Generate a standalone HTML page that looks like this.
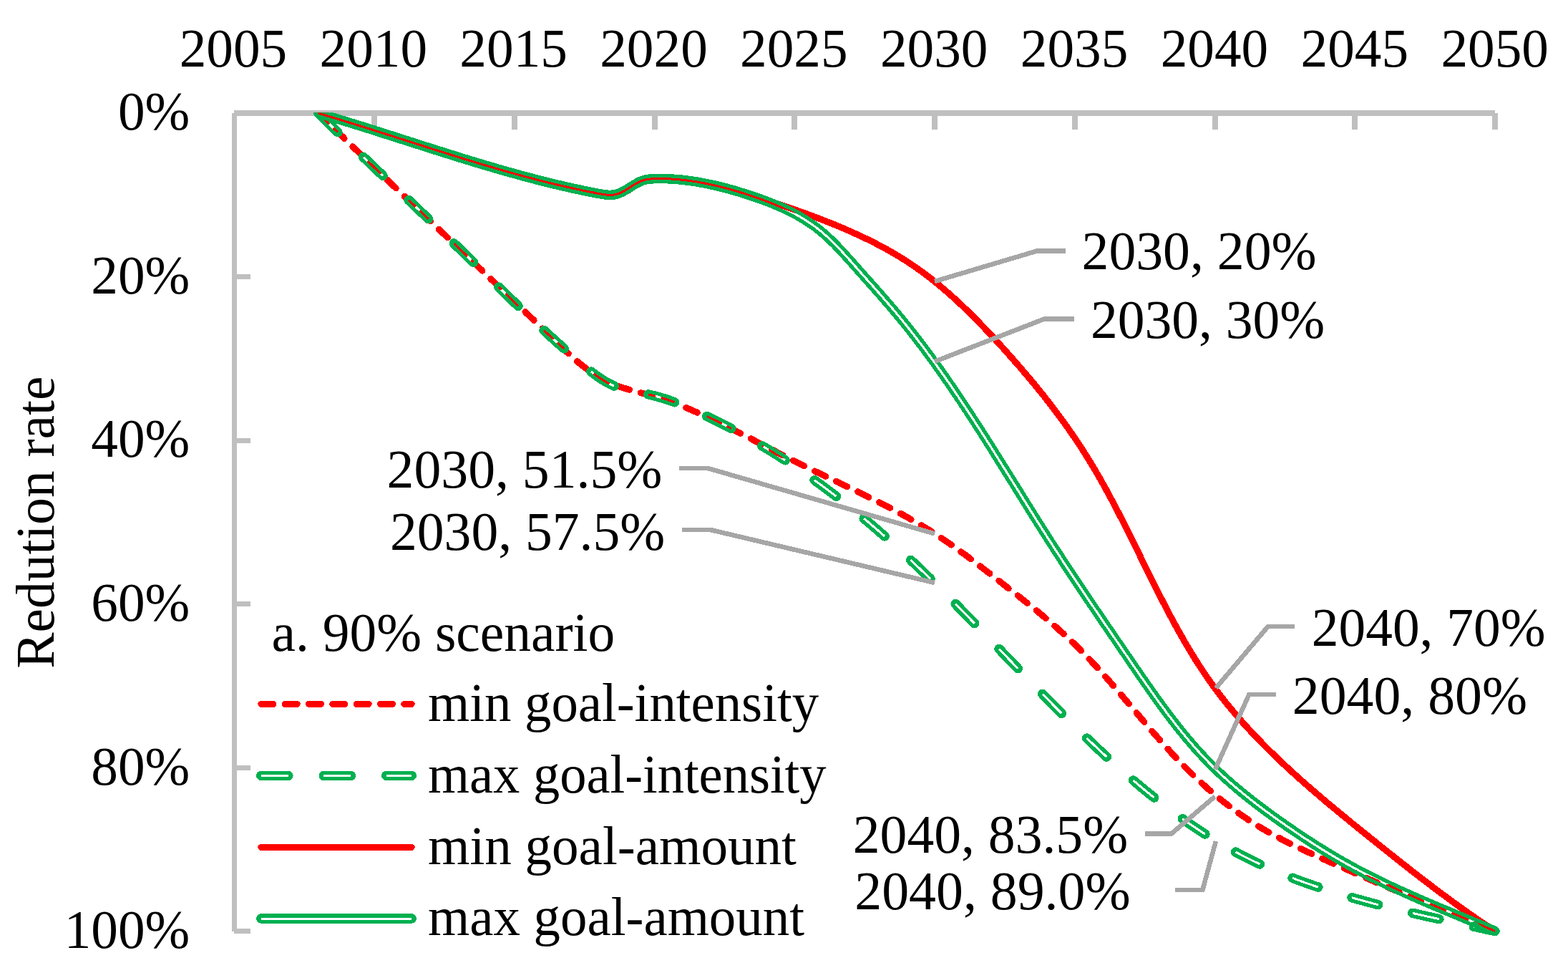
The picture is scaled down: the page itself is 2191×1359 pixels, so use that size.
<!DOCTYPE html><html><head><meta charset="utf-8"><style>html,body{margin:0;padding:0;background:#fff;overflow:hidden}svg{display:block}</style></head><body><svg width="2191" height="1359" viewBox="0 0 2191 1359" shape-rendering="crispEdges">
<rect width="2191" height="1359" fill="#fff"/>
<defs><mask id="m_gi" maskUnits="userSpaceOnUse" x="0" y="0" width="2191" height="1359"><path d="M444.9,158.2 L446.3,159.6 L447.7,161.0 L449.2,162.4 L450.6,163.8 L452.0,165.2 L453.4,166.6 L454.9,168.0 L456.3,169.4 L457.7,170.8 L459.1,172.3 L460.6,173.7 L462.0,175.1 L463.4,176.5 L464.9,177.9 L466.3,179.3 L467.7,180.6 L469.1,182.0 L470.6,183.4 L472.0,184.8 L473.4,186.2 L474.9,187.6 L476.3,189.0 L477.7,190.4 L479.2,191.8 L480.6,193.2 L482.1,194.6 L483.5,196.0 L484.9,197.4 L486.4,198.8 L487.8,200.2 L489.2,201.5 L490.7,202.9 L492.1,204.3 L493.6,205.7 L495.0,207.1 L496.5,208.5 L497.9,209.9 L499.3,211.3 L500.8,212.6 L502.2,214.0 L503.7,215.4 L505.1,216.8 L506.6,218.2 L508.0,219.6 L509.4,221.0 L510.9,222.3 L512.3,223.7 L513.8,225.1 L515.2,226.5 L516.7,227.9 L518.1,229.2 L519.6,230.6 L521.0,232.0 L522.5,233.4 L523.9,234.8 L525.4,236.1 L526.8,237.5 L528.3,238.9 L529.7,240.3 L531.2,241.7 L532.6,243.0 L534.1,244.4 L535.5,245.8 L537.0,247.2 L538.4,248.6 L539.9,249.9 L541.3,251.3 L542.8,252.7 L544.2,254.1 L545.7,255.4 L547.1,256.8 L548.6,258.2 L550.0,259.6 L551.5,261.0 L552.9,262.3 L554.4,263.7 L555.8,265.1 L557.3,266.5 L558.7,267.8 L560.2,269.2 L561.6,270.6 L563.1,272.0 L564.5,273.3 L566.0,274.7 L567.4,276.1 L568.9,277.5 L570.3,278.9 L571.8,280.2 L573.2,281.6 L574.7,283.0 L576.1,284.4 L577.6,285.7 L579.0,287.1 L580.5,288.5 L581.9,289.9 L583.4,291.3 L584.8,292.6 L586.3,294.0 L587.7,295.4 L589.2,296.8 L590.6,298.1 L592.1,299.5 L593.5,300.9 L595.0,302.3 L596.4,303.7 L597.9,305.0 L599.3,306.4 L600.8,307.8 L602.2,309.2 L603.7,310.6 L605.1,311.9 L606.6,313.3 L608.0,314.7 L609.5,316.1 L610.9,317.5 L612.3,318.9 L613.8,320.2 L615.2,321.6 L616.7,323.0 L618.1,324.4 L619.6,325.8 L621.0,327.2 L622.5,328.5 L623.9,329.9 L625.3,331.3 L626.8,332.7 L628.2,334.1 L629.7,335.5 L631.1,336.9 L632.5,338.2 L634.0,339.6 L635.4,341.0 L636.9,342.4 L638.3,343.8 L639.7,345.2 L641.2,346.6 L642.6,348.0 L644.1,349.4 L645.5,350.8 L646.9,352.2 L648.4,353.5 L649.8,354.9 L651.2,356.3 L652.7,357.7 L654.1,359.1 L655.5,360.5 L657.0,361.9 L658.4,363.3 L659.8,364.7 L661.3,366.1 L662.7,367.5 L664.1,368.9 L665.5,370.3 L667.0,371.7 L668.4,373.1 L669.8,374.5 L671.3,375.9 L672.7,377.3 L674.1,378.7 L675.6,380.1 L677.0,381.5 L678.4,382.9 L679.8,384.3 L681.3,385.7 L682.7,387.1 L684.1,388.5 L685.6,389.9 L687.0,391.3 L688.4,392.7 L689.8,394.1 L691.3,395.5 L692.7,396.9 L694.1,398.3 L695.6,399.7 L697.0,401.1 L698.4,402.5 L699.9,403.9 L701.3,405.3 L702.7,406.7 L704.2,408.1 L705.6,409.5 L707.0,410.9 L708.5,412.3 L709.9,413.7 L711.3,415.1 L712.8,416.5 L714.2,417.8 L715.6,419.2 L717.1,420.6 L718.5,422.0 L719.9,423.4 L721.4,424.8 L722.8,426.2 L724.3,427.6 L725.7,429.0 L727.1,430.3 L728.6,431.7 L730.0,433.1 L731.5,434.5 L732.9,435.9 L734.4,437.3 L735.8,438.6 L737.3,440.0 L738.7,441.4 L740.2,442.8 L741.6,444.2 L743.1,445.5 L744.5,446.9 L746.0,448.3 L747.4,449.7 L748.9,451.0 L750.4,452.4 L751.8,453.8 L753.3,455.1 L754.7,456.5 L756.2,457.9 L757.7,459.2 L759.1,460.6 L760.6,461.9 L762.1,463.3 L763.5,464.7 L765.0,466.0 L766.5,467.4 L768.0,468.7 L769.4,470.1 L770.9,471.4 L772.4,472.8 L773.9,474.1 L775.4,475.4 L776.8,476.8 L778.3,478.1 L779.8,479.5 L781.3,480.8 L782.8,482.1 L784.3,483.5 L785.8,484.8 L787.3,486.1 L788.8,487.5 L790.3,488.8 L791.8,490.1 L793.3,491.4 L794.8,492.7 L796.3,494.1 L797.8,495.4 L799.3,496.7 L800.8,498.0 L802.3,499.3 L803.8,500.6 L805.4,501.9 L806.9,503.2 L808.4,504.5 L809.9,505.8 L811.5,507.1 L813.0,508.4 L814.5,509.7 L816.0,511.0 L817.6,512.2 L819.1,513.5 L820.7,514.8 L822.2,516.1 L823.8,517.3 L825.3,518.6 L826.9,519.8 L828.5,521.0 L830.1,522.2 L831.7,523.4 L833.3,524.6 L834.9,525.8 L836.6,526.9 L838.2,528.0 L839.9,529.2 L841.6,530.2 L843.3,531.3 L845.0,532.3 L846.7,533.3 L848.4,534.3 L850.2,535.3 L852.0,536.2 L853.8,537.1 L855.6,537.9 L857.4,538.8 L859.3,539.5 L861.1,540.3 L863.0,541.0 L864.9,541.6 L866.8,542.2 L868.7,542.8 L870.6,543.3 L872.6,543.8 L874.5,544.3 L876.5,544.8 L878.4,545.2 L880.4,545.6 L882.3,546.0 L884.3,546.4 L886.2,546.8 L888.2,547.2 L890.2,547.6 L892.1,548.0 L894.1,548.4 L896.1,548.8 L898.0,549.2 L900.0,549.6 L901.9,550.0 L903.9,550.4 L905.8,550.9 L907.8,551.3 L909.7,551.8 L911.7,552.3 L913.6,552.7 L915.6,553.2 L917.5,553.7 L919.4,554.3 L921.3,554.8 L923.3,555.3 L925.2,555.9 L927.1,556.5 L929.0,557.1 L930.9,557.7 L932.8,558.3 L934.7,559.0 L936.6,559.7 L938.5,560.3 L940.4,561.0 L942.2,561.7 L944.1,562.4 L946.0,563.1 L947.8,563.9 L949.7,564.6 L951.5,565.4 L953.4,566.1 L955.2,566.9 L957.1,567.7 L958.9,568.4 L960.8,569.2 L962.6,570.0 L964.4,570.8 L966.3,571.6 L968.1,572.4 L969.9,573.3 L971.8,574.1 L973.6,574.9 L975.4,575.7 L977.2,576.5 L979.0,577.4 L980.9,578.2 L982.7,579.1 L984.5,579.9 L986.3,580.8 L988.1,581.6 L989.9,582.5 L991.7,583.3 L993.5,584.2 L995.3,585.1 L997.1,586.0 L998.9,586.8 L1000.7,587.7 L1002.5,588.6 L1004.3,589.5 L1006.1,590.4 L1007.9,591.3 L1009.6,592.2 L1011.4,593.1 L1013.2,594.0 L1015.0,594.9 L1016.8,595.9 L1018.5,596.8 L1020.3,597.7 L1022.1,598.7 L1023.8,599.6 L1025.6,600.5 L1027.4,601.5 L1029.1,602.4 L1030.9,603.4 L1032.6,604.3 L1034.4,605.3 L1036.2,606.3 L1037.9,607.2 L1039.7,608.2 L1041.4,609.2 L1043.1,610.1 L1044.9,611.1 L1046.6,612.1 L1048.4,613.1 L1050.1,614.1 L1051.8,615.1 L1053.6,616.1 L1055.3,617.1 L1057.0,618.1 L1058.8,619.1 L1060.5,620.1 L1062.2,621.1 L1063.9,622.2 L1065.6,623.2 L1067.4,624.2 L1069.1,625.2 L1070.8,626.3 L1072.5,627.3 L1074.2,628.4 L1075.9,629.4 L1077.6,630.4 L1079.3,631.5 L1081.0,632.6 L1082.7,633.6 L1084.4,634.7 L1086.1,635.7 L1087.8,636.8 L1089.5,637.9 L1091.2,639.0 L1092.9,640.0 L1094.5,641.1 L1096.2,642.2 L1097.9,643.3 L1099.6,644.4 L1101.2,645.5 L1102.9,646.6 L1104.6,647.7 L1106.3,648.8 L1107.9,649.9 L1109.6,651.0 L1111.3,652.1 L1112.9,653.2 L1114.6,654.4 L1116.2,655.5 L1117.9,656.6 L1119.5,657.7 L1121.2,658.9 L1122.8,660.0 L1124.5,661.1 L1126.1,662.3 L1127.8,663.4 L1129.4,664.6 L1131.0,665.7 L1132.7,666.9 L1134.3,668.0 L1135.9,669.2 L1137.6,670.3 L1139.2,671.5 L1140.8,672.7 L1142.4,673.9 L1144.0,675.0 L1145.7,676.2 L1147.3,677.4 L1148.9,678.6 L1150.5,679.7 L1152.1,680.9 L1153.7,682.1 L1155.3,683.3 L1156.9,684.5 L1158.5,685.7 L1160.1,686.9 L1161.7,688.1 L1163.3,689.3 L1164.9,690.5 L1166.5,691.7 L1168.1,693.0 L1169.7,694.2 L1171.3,695.4 L1172.9,696.6 L1174.4,697.8 L1176.0,699.1 L1177.6,700.3 L1179.2,701.5 L1180.7,702.8 L1182.3,704.0 L1183.9,705.3 L1185.4,706.5 L1187.0,707.7 L1188.6,709.0 L1190.1,710.2 L1191.7,711.5 L1193.3,712.8 L1194.8,714.0 L1196.4,715.3 L1197.9,716.5 L1199.5,717.8 L1201.0,719.1 L1202.5,720.4 L1204.1,721.6 L1205.6,722.9 L1207.2,724.2 L1208.7,725.5 L1210.2,726.7 L1211.8,728.0 L1213.3,729.3 L1214.8,730.6 L1216.4,731.9 L1217.9,733.2 L1219.4,734.5 L1220.9,735.8 L1222.4,737.1 L1224.0,738.4 L1225.5,739.7 L1227.0,741.0 L1228.5,742.3 L1230.0,743.6 L1231.5,745.0 L1233.0,746.3 L1234.5,747.6 L1236.0,748.9 L1237.5,750.2 L1239.0,751.6 L1240.5,752.9 L1242.0,754.2 L1243.5,755.6 L1245.0,756.9 L1246.5,758.2 L1248.0,759.6 L1249.4,760.9 L1250.9,762.3 L1252.4,763.6 L1253.9,764.9 L1255.4,766.3 L1256.8,767.6 L1258.3,769.0 L1259.8,770.4 L1261.3,771.7 L1262.7,773.1 L1264.2,774.4 L1265.7,775.8 L1267.1,777.2 L1268.6,778.5 L1270.1,779.9 L1271.5,781.2 L1273.0,782.6 L1274.4,784.0 L1275.9,785.4 L1277.3,786.7 L1278.8,788.1 L1280.2,789.5 L1281.7,790.9 L1283.1,792.3 L1284.6,793.6 L1286.0,795.0 L1287.5,796.4 L1288.9,797.8 L1290.4,799.2 L1291.8,800.6 L1293.2,802.0 L1294.7,803.3 L1296.1,804.7 L1297.5,806.1 L1299.0,807.5 L1300.4,808.9 L1301.8,810.3 L1303.3,811.7 L1304.7,813.1 L1306.1,814.5 L1307.5,815.9 L1309.0,817.3 L1310.4,818.7 L1311.8,820.2 L1313.2,821.6 L1314.7,823.0 L1316.1,824.4 L1317.5,825.8 L1318.9,827.2 L1320.3,828.6 L1321.7,830.0 L1323.1,831.4 L1324.6,832.9 L1326.0,834.3 L1327.4,835.7 L1328.8,837.1 L1330.2,838.5 L1331.6,840.0 L1333.0,841.4 L1334.4,842.8 L1335.8,844.2 L1337.2,845.7 L1338.6,847.1 L1340.0,848.5 L1341.4,849.9 L1342.8,851.4 L1344.2,852.8 L1345.6,854.2 L1347.0,855.6 L1348.4,857.1 L1349.8,858.5 L1351.2,859.9 L1352.6,861.4 L1354.0,862.8 L1355.4,864.2 L1356.8,865.7 L1358.2,867.1 L1359.6,868.5 L1361.0,870.0 L1362.4,871.4 L1363.8,872.9 L1365.2,874.3 L1366.6,875.7 L1368.0,877.2 L1369.3,878.6 L1370.7,880.0 L1372.1,881.5 L1373.5,882.9 L1374.9,884.4 L1376.3,885.8 L1377.7,887.2 L1379.1,888.7 L1380.4,890.1 L1381.8,891.6 L1383.2,893.0 L1384.6,894.5 L1386.0,895.9 L1387.4,897.3 L1388.8,898.8 L1390.1,900.2 L1391.5,901.7 L1392.9,903.1 L1394.3,904.6 L1395.7,906.0 L1397.1,907.4 L1398.5,908.9 L1399.8,910.3 L1401.2,911.8 L1402.6,913.2 L1404.0,914.7 L1405.4,916.1 L1406.8,917.6 L1408.1,919.0 L1409.5,920.4 L1410.9,921.9 L1412.3,923.3 L1413.7,924.8 L1415.1,926.2 L1416.5,927.7 L1417.8,929.1 L1419.2,930.5 L1420.6,932.0 L1422.0,933.4 L1423.4,934.9 L1424.8,936.3 L1426.2,937.8 L1427.5,939.2 L1428.9,940.6 L1430.3,942.1 L1431.7,943.5 L1433.1,945.0 L1434.5,946.4 L1435.9,947.8 L1437.3,949.3 L1438.7,950.7 L1440.0,952.2 L1441.4,953.6 L1442.8,955.0 L1444.2,956.5 L1445.6,957.9 L1447.0,959.3 L1448.4,960.8 L1449.8,962.2 L1451.2,963.7 L1452.6,965.1 L1454.0,966.5 L1455.4,968.0 L1456.8,969.4 L1458.2,970.8 L1459.6,972.2 L1461.0,973.7 L1462.4,975.1 L1463.8,976.5 L1465.2,978.0 L1466.6,979.4 L1468.0,980.8 L1469.4,982.2 L1470.8,983.7 L1472.2,985.1 L1473.6,986.5 L1475.0,987.9 L1476.4,989.4 L1477.8,990.8 L1479.2,992.2 L1480.6,993.6 L1482.0,995.0 L1483.4,996.5 L1484.9,997.9 L1486.3,999.3 L1487.7,1000.7 L1489.1,1002.1 L1490.5,1003.5 L1491.9,1004.9 L1493.4,1006.3 L1494.8,1007.8 L1496.2,1009.2 L1497.6,1010.6 L1499.0,1012.0 L1500.5,1013.4 L1501.9,1014.8 L1503.3,1016.2 L1504.8,1017.6 L1506.2,1019.0 L1507.6,1020.4 L1509.0,1021.8 L1510.5,1023.2 L1511.9,1024.6 L1513.4,1026.0 L1514.8,1027.3 L1516.2,1028.7 L1517.7,1030.1 L1519.1,1031.5 L1520.6,1032.9 L1522.0,1034.3 L1523.5,1035.7 L1524.9,1037.0 L1526.3,1038.4 L1527.8,1039.8 L1529.3,1041.2 L1530.7,1042.5 L1532.2,1043.9 L1533.6,1045.3 L1535.1,1046.7 L1536.5,1048.0 L1538.0,1049.4 L1539.5,1050.7 L1540.9,1052.1 L1542.4,1053.5 L1543.9,1054.8 L1545.3,1056.2 L1546.8,1057.5 L1548.3,1058.9 L1549.8,1060.2 L1551.2,1061.6 L1552.7,1062.9 L1554.2,1064.3 L1555.7,1065.6 L1557.2,1066.9 L1558.7,1068.3 L1560.2,1069.6 L1561.7,1071.0 L1563.1,1072.3 L1564.6,1073.6 L1566.1,1074.9 L1567.6,1076.3 L1569.1,1077.6 L1570.6,1078.9 L1572.2,1080.2 L1573.7,1081.5 L1575.2,1082.8 L1576.7,1084.2 L1578.2,1085.5 L1579.7,1086.8 L1581.2,1088.1 L1582.8,1089.4 L1584.3,1090.7 L1585.8,1092.0 L1587.3,1093.2 L1588.9,1094.5 L1590.4,1095.8 L1591.9,1097.1 L1593.5,1098.4 L1595.0,1099.7 L1596.5,1100.9 L1598.1,1102.2 L1599.6,1103.5 L1601.2,1104.7 L1602.7,1106.0 L1604.3,1107.3 L1605.8,1108.5 L1607.4,1109.8 L1609.0,1111.0 L1610.5,1112.3 L1612.1,1113.5 L1613.7,1114.8 L1615.2,1116.0 L1616.8,1117.2 L1618.4,1118.5 L1620.0,1119.7 L1621.5,1120.9 L1623.1,1122.2 L1624.7,1123.4 L1626.3,1124.6 L1627.9,1125.8 L1629.5,1127.0 L1631.1,1128.2 L1632.7,1129.4 L1634.3,1130.6 L1635.9,1131.8 L1637.5,1133.0 L1639.1,1134.2 L1640.7,1135.4 L1642.3,1136.6 L1643.9,1137.7 L1645.6,1138.9 L1647.2,1140.1 L1648.8,1141.2 L1650.4,1142.4 L1652.1,1143.6 L1653.7,1144.7 L1655.3,1145.9 L1657.0,1147.0 L1658.6,1148.2 L1660.3,1149.3 L1661.9,1150.4 L1663.6,1151.6 L1665.2,1152.7 L1666.9,1153.8 L1668.5,1154.9 L1670.2,1156.0 L1671.9,1157.1 L1673.5,1158.2 L1675.2,1159.3 L1676.9,1160.4 L1678.6,1161.5 L1680.2,1162.6 L1681.9,1163.7 L1683.6,1164.8 L1685.3,1165.8 L1687.0,1166.9 L1688.7,1168.0 L1690.4,1169.0 L1692.1,1170.1 L1693.8,1171.1 L1695.5,1172.2 L1697.2,1173.2 L1698.9,1174.3 L1700.6,1175.3 L1702.3,1176.3 L1704.1,1177.3 L1705.8,1178.3 L1707.5,1179.4 L1709.2,1180.4 L1711.0,1181.4 L1712.7,1182.4 L1714.5,1183.3 L1716.2,1184.3 L1717.9,1185.3 L1719.7,1186.3 L1721.4,1187.2 L1723.2,1188.2 L1724.9,1189.2 L1726.7,1190.1 L1728.5,1191.1 L1730.2,1192.0 L1732.0,1192.9 L1733.8,1193.9 L1735.6,1194.8 L1737.3,1195.7 L1739.1,1196.6 L1740.9,1197.5 L1742.7,1198.4 L1744.5,1199.3 L1746.3,1200.2 L1748.1,1201.1 L1749.9,1202.0 L1751.7,1202.8 L1753.5,1203.7 L1755.3,1204.6 L1757.1,1205.4 L1758.9,1206.3 L1760.7,1207.1 L1762.5,1208.0 L1764.3,1208.8 L1766.1,1209.6 L1768.0,1210.4 L1769.8,1211.3 L1771.6,1212.1 L1773.5,1212.9 L1775.3,1213.7 L1777.1,1214.5 L1779.0,1215.3 L1780.8,1216.1 L1782.6,1216.8 L1784.5,1217.6 L1786.3,1218.4 L1788.2,1219.2 L1790.0,1219.9 L1791.9,1220.7 L1793.7,1221.4 L1795.6,1222.2 L1797.5,1222.9 L1799.3,1223.6 L1801.2,1224.4 L1803.0,1225.1 L1804.9,1225.8 L1806.8,1226.5 L1808.6,1227.3 L1810.5,1228.0 L1812.4,1228.7 L1814.3,1229.4 L1816.1,1230.1 L1818.0,1230.8 L1819.9,1231.4 L1821.8,1232.1 L1823.7,1232.8 L1825.5,1233.5 L1827.4,1234.1 L1829.3,1234.8 L1831.2,1235.5 L1833.1,1236.1 L1835.0,1236.8 L1836.9,1237.4 L1838.8,1238.1 L1840.7,1238.7 L1842.6,1239.3 L1844.5,1240.0 L1846.4,1240.6 L1848.3,1241.2 L1850.2,1241.9 L1852.1,1242.5 L1854.0,1243.1 L1855.9,1243.7 L1857.8,1244.3 L1859.7,1244.9 L1861.6,1245.5 L1863.5,1246.1 L1865.4,1246.7 L1867.3,1247.3 L1869.2,1247.9 L1871.2,1248.4 L1873.1,1249.0 L1875.0,1249.6 L1876.9,1250.2 L1878.8,1250.7 L1880.7,1251.3 L1882.7,1251.9 L1884.6,1252.4 L1886.5,1253.0 L1888.4,1253.5 L1890.3,1254.1 L1892.3,1254.6 L1894.2,1255.2 L1896.1,1255.7 L1898.0,1256.2 L1900.0,1256.8 L1901.9,1257.3 L1903.8,1257.8 L1905.8,1258.4 L1907.7,1258.9 L1909.6,1259.4 L1911.6,1259.9 L1913.5,1260.4 L1915.4,1261.0 L1917.4,1261.5 L1919.3,1262.0 L1921.2,1262.5 L1923.2,1263.0 L1925.1,1263.5 L1927.0,1264.0 L1929.0,1264.5 L1930.9,1265.0 L1932.9,1265.5 L1934.8,1266.0 L1936.7,1266.4 L1938.7,1266.9 L1940.6,1267.4 L1942.6,1267.9 L1944.5,1268.4 L1946.4,1268.8 L1948.4,1269.3 L1950.3,1269.8 L1952.3,1270.3 L1954.2,1270.7 L1956.2,1271.2 L1958.1,1271.7 L1960.1,1272.1 L1962.0,1272.6 L1964.0,1273.0 L1965.9,1273.5 L1967.8,1274.0 L1969.8,1274.4 L1971.7,1274.9 L1973.7,1275.3 L1975.6,1275.8 L1977.6,1276.2 L1979.5,1276.7 L1981.5,1277.1 L1983.4,1277.6 L1985.4,1278.0 L1987.3,1278.4 L1989.3,1278.9 L1991.2,1279.3 L1993.2,1279.8 L1995.1,1280.2 L1997.1,1280.6 L1999.1,1281.1 L2001.0,1281.5 L2003.0,1281.9 L2004.9,1282.4 L2006.9,1282.8 L2008.8,1283.2 L2010.8,1283.7 L2012.7,1284.1 L2014.7,1284.5 L2016.6,1284.9 L2018.6,1285.4 L2020.5,1285.8 L2022.5,1286.2 L2024.5,1286.6 L2026.4,1287.1 L2028.4,1287.5 L2030.3,1287.9 L2032.3,1288.3 L2034.2,1288.7 L2036.2,1289.2 L2038.1,1289.6 L2040.1,1290.0 L2042.1,1290.4 L2044.0,1290.8 L2046.0,1291.3 L2047.9,1291.7 L2049.9,1292.1 L2051.8,1292.5 L2053.8,1292.9 L2055.8,1293.4 L2057.7,1293.8 L2059.7,1294.2 L2061.6,1294.6 L2063.6,1295.0 L2065.5,1295.5 L2067.5,1295.9 L2069.4,1296.3 L2071.4,1296.7 L2073.4,1297.1 L2075.3,1297.5 L2077.3,1298.0 L2079.2,1298.4 L2081.2,1298.8 L2083.1,1299.2 L2085.1,1299.7 L2087.0,1300.1 L2089.0,1300.5" fill="none" stroke="#fff" stroke-width="13.5" stroke-linecap="round" stroke-linejoin="round" stroke-dasharray="38 49.5" stroke-dashoffset="0"/><path d="M444.9,158.2 L446.3,159.6 L447.7,161.0 L449.2,162.4 L450.6,163.8 L452.0,165.2 L453.4,166.6 L454.9,168.0 L456.3,169.4 L457.7,170.8 L459.1,172.3 L460.6,173.7 L462.0,175.1 L463.4,176.5 L464.9,177.9 L466.3,179.3 L467.7,180.6 L469.1,182.0 L470.6,183.4 L472.0,184.8 L473.4,186.2 L474.9,187.6 L476.3,189.0 L477.7,190.4 L479.2,191.8 L480.6,193.2 L482.1,194.6 L483.5,196.0 L484.9,197.4 L486.4,198.8 L487.8,200.2 L489.2,201.5 L490.7,202.9 L492.1,204.3 L493.6,205.7 L495.0,207.1 L496.5,208.5 L497.9,209.9 L499.3,211.3 L500.8,212.6 L502.2,214.0 L503.7,215.4 L505.1,216.8 L506.6,218.2 L508.0,219.6 L509.4,221.0 L510.9,222.3 L512.3,223.7 L513.8,225.1 L515.2,226.5 L516.7,227.9 L518.1,229.2 L519.6,230.6 L521.0,232.0 L522.5,233.4 L523.9,234.8 L525.4,236.1 L526.8,237.5 L528.3,238.9 L529.7,240.3 L531.2,241.7 L532.6,243.0 L534.1,244.4 L535.5,245.8 L537.0,247.2 L538.4,248.6 L539.9,249.9 L541.3,251.3 L542.8,252.7 L544.2,254.1 L545.7,255.4 L547.1,256.8 L548.6,258.2 L550.0,259.6 L551.5,261.0 L552.9,262.3 L554.4,263.7 L555.8,265.1 L557.3,266.5 L558.7,267.8 L560.2,269.2 L561.6,270.6 L563.1,272.0 L564.5,273.3 L566.0,274.7 L567.4,276.1 L568.9,277.5 L570.3,278.9 L571.8,280.2 L573.2,281.6 L574.7,283.0 L576.1,284.4 L577.6,285.7 L579.0,287.1 L580.5,288.5 L581.9,289.9 L583.4,291.3 L584.8,292.6 L586.3,294.0 L587.7,295.4 L589.2,296.8 L590.6,298.1 L592.1,299.5 L593.5,300.9 L595.0,302.3 L596.4,303.7 L597.9,305.0 L599.3,306.4 L600.8,307.8 L602.2,309.2 L603.7,310.6 L605.1,311.9 L606.6,313.3 L608.0,314.7 L609.5,316.1 L610.9,317.5 L612.3,318.9 L613.8,320.2 L615.2,321.6 L616.7,323.0 L618.1,324.4 L619.6,325.8 L621.0,327.2 L622.5,328.5 L623.9,329.9 L625.3,331.3 L626.8,332.7 L628.2,334.1 L629.7,335.5 L631.1,336.9 L632.5,338.2 L634.0,339.6 L635.4,341.0 L636.9,342.4 L638.3,343.8 L639.7,345.2 L641.2,346.6 L642.6,348.0 L644.1,349.4 L645.5,350.8 L646.9,352.2 L648.4,353.5 L649.8,354.9 L651.2,356.3 L652.7,357.7 L654.1,359.1 L655.5,360.5 L657.0,361.9 L658.4,363.3 L659.8,364.7 L661.3,366.1 L662.7,367.5 L664.1,368.9 L665.5,370.3 L667.0,371.7 L668.4,373.1 L669.8,374.5 L671.3,375.9 L672.7,377.3 L674.1,378.7 L675.6,380.1 L677.0,381.5 L678.4,382.9 L679.8,384.3 L681.3,385.7 L682.7,387.1 L684.1,388.5 L685.6,389.9 L687.0,391.3 L688.4,392.7 L689.8,394.1 L691.3,395.5 L692.7,396.9 L694.1,398.3 L695.6,399.7 L697.0,401.1 L698.4,402.5 L699.9,403.9 L701.3,405.3 L702.7,406.7 L704.2,408.1 L705.6,409.5 L707.0,410.9 L708.5,412.3 L709.9,413.7 L711.3,415.1 L712.8,416.5 L714.2,417.8 L715.6,419.2 L717.1,420.6 L718.5,422.0 L719.9,423.4 L721.4,424.8 L722.8,426.2 L724.3,427.6 L725.7,429.0 L727.1,430.3 L728.6,431.7 L730.0,433.1 L731.5,434.5 L732.9,435.9 L734.4,437.3 L735.8,438.6 L737.3,440.0 L738.7,441.4 L740.2,442.8 L741.6,444.2 L743.1,445.5 L744.5,446.9 L746.0,448.3 L747.4,449.7 L748.9,451.0 L750.4,452.4 L751.8,453.8 L753.3,455.1 L754.7,456.5 L756.2,457.9 L757.7,459.2 L759.1,460.6 L760.6,461.9 L762.1,463.3 L763.5,464.7 L765.0,466.0 L766.5,467.4 L768.0,468.7 L769.4,470.1 L770.9,471.4 L772.4,472.8 L773.9,474.1 L775.4,475.4 L776.8,476.8 L778.3,478.1 L779.8,479.5 L781.3,480.8 L782.8,482.1 L784.3,483.5 L785.8,484.8 L787.3,486.1 L788.8,487.5 L790.3,488.8 L791.8,490.1 L793.3,491.4 L794.8,492.7 L796.3,494.1 L797.8,495.4 L799.3,496.7 L800.8,498.0 L802.3,499.3 L803.8,500.6 L805.4,501.9 L806.9,503.2 L808.4,504.5 L809.9,505.8 L811.5,507.1 L813.0,508.4 L814.5,509.7 L816.0,511.0 L817.6,512.2 L819.1,513.5 L820.7,514.8 L822.2,516.1 L823.8,517.3 L825.3,518.6 L826.9,519.8 L828.5,521.0 L830.1,522.2 L831.7,523.4 L833.3,524.6 L834.9,525.8 L836.6,526.9 L838.2,528.0 L839.9,529.2 L841.6,530.2 L843.3,531.3 L845.0,532.3 L846.7,533.3 L848.4,534.3 L850.2,535.3 L852.0,536.2 L853.8,537.1 L855.6,537.9 L857.4,538.8 L859.3,539.5 L861.1,540.3 L863.0,541.0 L864.9,541.6 L866.8,542.2 L868.7,542.8 L870.6,543.3 L872.6,543.8 L874.5,544.3 L876.5,544.8 L878.4,545.2 L880.4,545.6 L882.3,546.0 L884.3,546.4 L886.2,546.8 L888.2,547.2 L890.2,547.6 L892.1,548.0 L894.1,548.4 L896.1,548.8 L898.0,549.2 L900.0,549.6 L901.9,550.0 L903.9,550.4 L905.8,550.9 L907.8,551.3 L909.7,551.8 L911.7,552.3 L913.6,552.7 L915.6,553.2 L917.5,553.7 L919.4,554.3 L921.3,554.8 L923.3,555.3 L925.2,555.9 L927.1,556.5 L929.0,557.1 L930.9,557.7 L932.8,558.3 L934.7,559.0 L936.6,559.7 L938.5,560.3 L940.4,561.0 L942.2,561.7 L944.1,562.4 L946.0,563.1 L947.8,563.9 L949.7,564.6 L951.5,565.4 L953.4,566.1 L955.2,566.9 L957.1,567.7 L958.9,568.4 L960.8,569.2 L962.6,570.0 L964.4,570.8 L966.3,571.6 L968.1,572.4 L969.9,573.3 L971.8,574.1 L973.6,574.9 L975.4,575.7 L977.2,576.5 L979.0,577.4 L980.9,578.2 L982.7,579.1 L984.5,579.9 L986.3,580.8 L988.1,581.6 L989.9,582.5 L991.7,583.3 L993.5,584.2 L995.3,585.1 L997.1,586.0 L998.9,586.8 L1000.7,587.7 L1002.5,588.6 L1004.3,589.5 L1006.1,590.4 L1007.9,591.3 L1009.6,592.2 L1011.4,593.1 L1013.2,594.0 L1015.0,594.9 L1016.8,595.9 L1018.5,596.8 L1020.3,597.7 L1022.1,598.7 L1023.8,599.6 L1025.6,600.5 L1027.4,601.5 L1029.1,602.4 L1030.9,603.4 L1032.6,604.3 L1034.4,605.3 L1036.2,606.3 L1037.9,607.2 L1039.7,608.2 L1041.4,609.2 L1043.1,610.1 L1044.9,611.1 L1046.6,612.1 L1048.4,613.1 L1050.1,614.1 L1051.8,615.1 L1053.6,616.1 L1055.3,617.1 L1057.0,618.1 L1058.8,619.1 L1060.5,620.1 L1062.2,621.1 L1063.9,622.2 L1065.6,623.2 L1067.4,624.2 L1069.1,625.2 L1070.8,626.3 L1072.5,627.3 L1074.2,628.4 L1075.9,629.4 L1077.6,630.4 L1079.3,631.5 L1081.0,632.6 L1082.7,633.6 L1084.4,634.7 L1086.1,635.7 L1087.8,636.8 L1089.5,637.9 L1091.2,639.0 L1092.9,640.0 L1094.5,641.1 L1096.2,642.2 L1097.9,643.3 L1099.6,644.4 L1101.2,645.5 L1102.9,646.6 L1104.6,647.7 L1106.3,648.8 L1107.9,649.9 L1109.6,651.0 L1111.3,652.1 L1112.9,653.2 L1114.6,654.4 L1116.2,655.5 L1117.9,656.6 L1119.5,657.7 L1121.2,658.9 L1122.8,660.0 L1124.5,661.1 L1126.1,662.3 L1127.8,663.4 L1129.4,664.6 L1131.0,665.7 L1132.7,666.9 L1134.3,668.0 L1135.9,669.2 L1137.6,670.3 L1139.2,671.5 L1140.8,672.7 L1142.4,673.9 L1144.0,675.0 L1145.7,676.2 L1147.3,677.4 L1148.9,678.6 L1150.5,679.7 L1152.1,680.9 L1153.7,682.1 L1155.3,683.3 L1156.9,684.5 L1158.5,685.7 L1160.1,686.9 L1161.7,688.1 L1163.3,689.3 L1164.9,690.5 L1166.5,691.7 L1168.1,693.0 L1169.7,694.2 L1171.3,695.4 L1172.9,696.6 L1174.4,697.8 L1176.0,699.1 L1177.6,700.3 L1179.2,701.5 L1180.7,702.8 L1182.3,704.0 L1183.9,705.3 L1185.4,706.5 L1187.0,707.7 L1188.6,709.0 L1190.1,710.2 L1191.7,711.5 L1193.3,712.8 L1194.8,714.0 L1196.4,715.3 L1197.9,716.5 L1199.5,717.8 L1201.0,719.1 L1202.5,720.4 L1204.1,721.6 L1205.6,722.9 L1207.2,724.2 L1208.7,725.5 L1210.2,726.7 L1211.8,728.0 L1213.3,729.3 L1214.8,730.6 L1216.4,731.9 L1217.9,733.2 L1219.4,734.5 L1220.9,735.8 L1222.4,737.1 L1224.0,738.4 L1225.5,739.7 L1227.0,741.0 L1228.5,742.3 L1230.0,743.6 L1231.5,745.0 L1233.0,746.3 L1234.5,747.6 L1236.0,748.9 L1237.5,750.2 L1239.0,751.6 L1240.5,752.9 L1242.0,754.2 L1243.5,755.6 L1245.0,756.9 L1246.5,758.2 L1248.0,759.6 L1249.4,760.9 L1250.9,762.3 L1252.4,763.6 L1253.9,764.9 L1255.4,766.3 L1256.8,767.6 L1258.3,769.0 L1259.8,770.4 L1261.3,771.7 L1262.7,773.1 L1264.2,774.4 L1265.7,775.8 L1267.1,777.2 L1268.6,778.5 L1270.1,779.9 L1271.5,781.2 L1273.0,782.6 L1274.4,784.0 L1275.9,785.4 L1277.3,786.7 L1278.8,788.1 L1280.2,789.5 L1281.7,790.9 L1283.1,792.3 L1284.6,793.6 L1286.0,795.0 L1287.5,796.4 L1288.9,797.8 L1290.4,799.2 L1291.8,800.6 L1293.2,802.0 L1294.7,803.3 L1296.1,804.7 L1297.5,806.1 L1299.0,807.5 L1300.4,808.9 L1301.8,810.3 L1303.3,811.7 L1304.7,813.1 L1306.1,814.5 L1307.5,815.9 L1309.0,817.3 L1310.4,818.7 L1311.8,820.2 L1313.2,821.6 L1314.7,823.0 L1316.1,824.4 L1317.5,825.8 L1318.9,827.2 L1320.3,828.6 L1321.7,830.0 L1323.1,831.4 L1324.6,832.9 L1326.0,834.3 L1327.4,835.7 L1328.8,837.1 L1330.2,838.5 L1331.6,840.0 L1333.0,841.4 L1334.4,842.8 L1335.8,844.2 L1337.2,845.7 L1338.6,847.1 L1340.0,848.5 L1341.4,849.9 L1342.8,851.4 L1344.2,852.8 L1345.6,854.2 L1347.0,855.6 L1348.4,857.1 L1349.8,858.5 L1351.2,859.9 L1352.6,861.4 L1354.0,862.8 L1355.4,864.2 L1356.8,865.7 L1358.2,867.1 L1359.6,868.5 L1361.0,870.0 L1362.4,871.4 L1363.8,872.9 L1365.2,874.3 L1366.6,875.7 L1368.0,877.2 L1369.3,878.6 L1370.7,880.0 L1372.1,881.5 L1373.5,882.9 L1374.9,884.4 L1376.3,885.8 L1377.7,887.2 L1379.1,888.7 L1380.4,890.1 L1381.8,891.6 L1383.2,893.0 L1384.6,894.5 L1386.0,895.9 L1387.4,897.3 L1388.8,898.8 L1390.1,900.2 L1391.5,901.7 L1392.9,903.1 L1394.3,904.6 L1395.7,906.0 L1397.1,907.4 L1398.5,908.9 L1399.8,910.3 L1401.2,911.8 L1402.6,913.2 L1404.0,914.7 L1405.4,916.1 L1406.8,917.6 L1408.1,919.0 L1409.5,920.4 L1410.9,921.9 L1412.3,923.3 L1413.7,924.8 L1415.1,926.2 L1416.5,927.7 L1417.8,929.1 L1419.2,930.5 L1420.6,932.0 L1422.0,933.4 L1423.4,934.9 L1424.8,936.3 L1426.2,937.8 L1427.5,939.2 L1428.9,940.6 L1430.3,942.1 L1431.7,943.5 L1433.1,945.0 L1434.5,946.4 L1435.9,947.8 L1437.3,949.3 L1438.7,950.7 L1440.0,952.2 L1441.4,953.6 L1442.8,955.0 L1444.2,956.5 L1445.6,957.9 L1447.0,959.3 L1448.4,960.8 L1449.8,962.2 L1451.2,963.7 L1452.6,965.1 L1454.0,966.5 L1455.4,968.0 L1456.8,969.4 L1458.2,970.8 L1459.6,972.2 L1461.0,973.7 L1462.4,975.1 L1463.8,976.5 L1465.2,978.0 L1466.6,979.4 L1468.0,980.8 L1469.4,982.2 L1470.8,983.7 L1472.2,985.1 L1473.6,986.5 L1475.0,987.9 L1476.4,989.4 L1477.8,990.8 L1479.2,992.2 L1480.6,993.6 L1482.0,995.0 L1483.4,996.5 L1484.9,997.9 L1486.3,999.3 L1487.7,1000.7 L1489.1,1002.1 L1490.5,1003.5 L1491.9,1004.9 L1493.4,1006.3 L1494.8,1007.8 L1496.2,1009.2 L1497.6,1010.6 L1499.0,1012.0 L1500.5,1013.4 L1501.9,1014.8 L1503.3,1016.2 L1504.8,1017.6 L1506.2,1019.0 L1507.6,1020.4 L1509.0,1021.8 L1510.5,1023.2 L1511.9,1024.6 L1513.4,1026.0 L1514.8,1027.3 L1516.2,1028.7 L1517.7,1030.1 L1519.1,1031.5 L1520.6,1032.9 L1522.0,1034.3 L1523.5,1035.7 L1524.9,1037.0 L1526.3,1038.4 L1527.8,1039.8 L1529.3,1041.2 L1530.7,1042.5 L1532.2,1043.9 L1533.6,1045.3 L1535.1,1046.7 L1536.5,1048.0 L1538.0,1049.4 L1539.5,1050.7 L1540.9,1052.1 L1542.4,1053.5 L1543.9,1054.8 L1545.3,1056.2 L1546.8,1057.5 L1548.3,1058.9 L1549.8,1060.2 L1551.2,1061.6 L1552.7,1062.9 L1554.2,1064.3 L1555.7,1065.6 L1557.2,1066.9 L1558.7,1068.3 L1560.2,1069.6 L1561.7,1071.0 L1563.1,1072.3 L1564.6,1073.6 L1566.1,1074.9 L1567.6,1076.3 L1569.1,1077.6 L1570.6,1078.9 L1572.2,1080.2 L1573.7,1081.5 L1575.2,1082.8 L1576.7,1084.2 L1578.2,1085.5 L1579.7,1086.8 L1581.2,1088.1 L1582.8,1089.4 L1584.3,1090.7 L1585.8,1092.0 L1587.3,1093.2 L1588.9,1094.5 L1590.4,1095.8 L1591.9,1097.1 L1593.5,1098.4 L1595.0,1099.7 L1596.5,1100.9 L1598.1,1102.2 L1599.6,1103.5 L1601.2,1104.7 L1602.7,1106.0 L1604.3,1107.3 L1605.8,1108.5 L1607.4,1109.8 L1609.0,1111.0 L1610.5,1112.3 L1612.1,1113.5 L1613.7,1114.8 L1615.2,1116.0 L1616.8,1117.2 L1618.4,1118.5 L1620.0,1119.7 L1621.5,1120.9 L1623.1,1122.2 L1624.7,1123.4 L1626.3,1124.6 L1627.9,1125.8 L1629.5,1127.0 L1631.1,1128.2 L1632.7,1129.4 L1634.3,1130.6 L1635.9,1131.8 L1637.5,1133.0 L1639.1,1134.2 L1640.7,1135.4 L1642.3,1136.6 L1643.9,1137.7 L1645.6,1138.9 L1647.2,1140.1 L1648.8,1141.2 L1650.4,1142.4 L1652.1,1143.6 L1653.7,1144.7 L1655.3,1145.9 L1657.0,1147.0 L1658.6,1148.2 L1660.3,1149.3 L1661.9,1150.4 L1663.6,1151.6 L1665.2,1152.7 L1666.9,1153.8 L1668.5,1154.9 L1670.2,1156.0 L1671.9,1157.1 L1673.5,1158.2 L1675.2,1159.3 L1676.9,1160.4 L1678.6,1161.5 L1680.2,1162.6 L1681.9,1163.7 L1683.6,1164.8 L1685.3,1165.8 L1687.0,1166.9 L1688.7,1168.0 L1690.4,1169.0 L1692.1,1170.1 L1693.8,1171.1 L1695.5,1172.2 L1697.2,1173.2 L1698.9,1174.3 L1700.6,1175.3 L1702.3,1176.3 L1704.1,1177.3 L1705.8,1178.3 L1707.5,1179.4 L1709.2,1180.4 L1711.0,1181.4 L1712.7,1182.4 L1714.5,1183.3 L1716.2,1184.3 L1717.9,1185.3 L1719.7,1186.3 L1721.4,1187.2 L1723.2,1188.2 L1724.9,1189.2 L1726.7,1190.1 L1728.5,1191.1 L1730.2,1192.0 L1732.0,1192.9 L1733.8,1193.9 L1735.6,1194.8 L1737.3,1195.7 L1739.1,1196.6 L1740.9,1197.5 L1742.7,1198.4 L1744.5,1199.3 L1746.3,1200.2 L1748.1,1201.1 L1749.9,1202.0 L1751.7,1202.8 L1753.5,1203.7 L1755.3,1204.6 L1757.1,1205.4 L1758.9,1206.3 L1760.7,1207.1 L1762.5,1208.0 L1764.3,1208.8 L1766.1,1209.6 L1768.0,1210.4 L1769.8,1211.3 L1771.6,1212.1 L1773.5,1212.9 L1775.3,1213.7 L1777.1,1214.5 L1779.0,1215.3 L1780.8,1216.1 L1782.6,1216.8 L1784.5,1217.6 L1786.3,1218.4 L1788.2,1219.2 L1790.0,1219.9 L1791.9,1220.7 L1793.7,1221.4 L1795.6,1222.2 L1797.5,1222.9 L1799.3,1223.6 L1801.2,1224.4 L1803.0,1225.1 L1804.9,1225.8 L1806.8,1226.5 L1808.6,1227.3 L1810.5,1228.0 L1812.4,1228.7 L1814.3,1229.4 L1816.1,1230.1 L1818.0,1230.8 L1819.9,1231.4 L1821.8,1232.1 L1823.7,1232.8 L1825.5,1233.5 L1827.4,1234.1 L1829.3,1234.8 L1831.2,1235.5 L1833.1,1236.1 L1835.0,1236.8 L1836.9,1237.4 L1838.8,1238.1 L1840.7,1238.7 L1842.6,1239.3 L1844.5,1240.0 L1846.4,1240.6 L1848.3,1241.2 L1850.2,1241.9 L1852.1,1242.5 L1854.0,1243.1 L1855.9,1243.7 L1857.8,1244.3 L1859.7,1244.9 L1861.6,1245.5 L1863.5,1246.1 L1865.4,1246.7 L1867.3,1247.3 L1869.2,1247.9 L1871.2,1248.4 L1873.1,1249.0 L1875.0,1249.6 L1876.9,1250.2 L1878.8,1250.7 L1880.7,1251.3 L1882.7,1251.9 L1884.6,1252.4 L1886.5,1253.0 L1888.4,1253.5 L1890.3,1254.1 L1892.3,1254.6 L1894.2,1255.2 L1896.1,1255.7 L1898.0,1256.2 L1900.0,1256.8 L1901.9,1257.3 L1903.8,1257.8 L1905.8,1258.4 L1907.7,1258.9 L1909.6,1259.4 L1911.6,1259.9 L1913.5,1260.4 L1915.4,1261.0 L1917.4,1261.5 L1919.3,1262.0 L1921.2,1262.5 L1923.2,1263.0 L1925.1,1263.5 L1927.0,1264.0 L1929.0,1264.5 L1930.9,1265.0 L1932.9,1265.5 L1934.8,1266.0 L1936.7,1266.4 L1938.7,1266.9 L1940.6,1267.4 L1942.6,1267.9 L1944.5,1268.4 L1946.4,1268.8 L1948.4,1269.3 L1950.3,1269.8 L1952.3,1270.3 L1954.2,1270.7 L1956.2,1271.2 L1958.1,1271.7 L1960.1,1272.1 L1962.0,1272.6 L1964.0,1273.0 L1965.9,1273.5 L1967.8,1274.0 L1969.8,1274.4 L1971.7,1274.9 L1973.7,1275.3 L1975.6,1275.8 L1977.6,1276.2 L1979.5,1276.7 L1981.5,1277.1 L1983.4,1277.6 L1985.4,1278.0 L1987.3,1278.4 L1989.3,1278.9 L1991.2,1279.3 L1993.2,1279.8 L1995.1,1280.2 L1997.1,1280.6 L1999.1,1281.1 L2001.0,1281.5 L2003.0,1281.9 L2004.9,1282.4 L2006.9,1282.8 L2008.8,1283.2 L2010.8,1283.7 L2012.7,1284.1 L2014.7,1284.5 L2016.6,1284.9 L2018.6,1285.4 L2020.5,1285.8 L2022.5,1286.2 L2024.5,1286.6 L2026.4,1287.1 L2028.4,1287.5 L2030.3,1287.9 L2032.3,1288.3 L2034.2,1288.7 L2036.2,1289.2 L2038.1,1289.6 L2040.1,1290.0 L2042.1,1290.4 L2044.0,1290.8 L2046.0,1291.3 L2047.9,1291.7 L2049.9,1292.1 L2051.8,1292.5 L2053.8,1292.9 L2055.8,1293.4 L2057.7,1293.8 L2059.7,1294.2 L2061.6,1294.6 L2063.6,1295.0 L2065.5,1295.5 L2067.5,1295.9 L2069.4,1296.3 L2071.4,1296.7 L2073.4,1297.1 L2075.3,1297.5 L2077.3,1298.0 L2079.2,1298.4 L2081.2,1298.8 L2083.1,1299.2 L2085.1,1299.7 L2087.0,1300.1 L2089.0,1300.5" fill="none" stroke="#000" stroke-width="3.0" stroke-linecap="butt" stroke-linejoin="round" stroke-dasharray="38 49.5" stroke-dashoffset="0"/></mask><mask id="m_ga" maskUnits="userSpaceOnUse" x="0" y="0" width="2191" height="1359"><path d="M444.9,158.2 L446.8,158.8 L448.7,159.3 L450.7,159.9 L452.6,160.5 L454.5,161.0 L456.4,161.6 L458.3,162.2 L460.3,162.7 L462.2,163.3 L464.1,163.9 L466.0,164.5 L467.9,165.0 L469.8,165.6 L471.7,166.2 L473.7,166.8 L475.6,167.4 L477.5,168.0 L479.4,168.5 L481.3,169.1 L483.2,169.7 L485.1,170.3 L487.1,170.9 L489.0,171.5 L490.9,172.1 L492.8,172.7 L494.7,173.3 L496.6,173.9 L498.5,174.4 L500.4,175.0 L502.3,175.6 L504.3,176.2 L506.2,176.8 L508.1,177.4 L510.0,178.0 L511.9,178.6 L513.8,179.2 L515.7,179.8 L517.6,180.4 L519.5,181.0 L521.4,181.6 L523.3,182.2 L525.3,182.9 L527.2,183.5 L529.1,184.1 L531.0,184.7 L532.9,185.3 L534.8,185.9 L536.7,186.5 L538.6,187.1 L540.5,187.7 L542.4,188.3 L544.3,188.9 L546.2,189.5 L548.1,190.1 L550.0,190.7 L551.9,191.4 L553.9,192.0 L555.8,192.6 L557.7,193.2 L559.6,193.8 L561.5,194.4 L563.4,195.0 L565.3,195.6 L567.2,196.2 L569.1,196.8 L571.0,197.5 L572.9,198.1 L574.8,198.7 L576.7,199.3 L578.6,199.9 L580.5,200.5 L582.4,201.1 L584.3,201.7 L586.3,202.3 L588.2,202.9 L590.1,203.6 L592.0,204.2 L593.9,204.8 L595.8,205.4 L597.7,206.0 L599.6,206.6 L601.5,207.2 L603.4,207.8 L605.3,208.4 L607.2,209.0 L609.1,209.6 L611.0,210.2 L613.0,210.8 L614.9,211.4 L616.8,212.0 L618.7,212.6 L620.6,213.2 L622.5,213.8 L624.4,214.4 L626.3,215.0 L628.2,215.6 L630.1,216.2 L632.0,216.8 L634.0,217.4 L635.9,218.0 L637.8,218.6 L639.7,219.2 L641.6,219.8 L643.5,220.4 L645.4,221.0 L647.3,221.6 L649.2,222.2 L651.2,222.7 L653.1,223.3 L655.0,223.9 L656.9,224.5 L658.8,225.1 L660.7,225.7 L662.6,226.2 L664.6,226.8 L666.5,227.4 L668.4,228.0 L670.3,228.6 L672.2,229.1 L674.1,229.7 L676.1,230.3 L678.0,230.8 L679.9,231.4 L681.8,232.0 L683.7,232.5 L685.7,233.1 L687.6,233.7 L689.5,234.2 L691.4,234.8 L693.3,235.4 L695.3,235.9 L697.2,236.5 L699.1,237.0 L701.0,237.6 L703.0,238.1 L704.9,238.7 L706.8,239.2 L708.7,239.8 L710.7,240.3 L712.6,240.8 L714.5,241.4 L716.4,241.9 L718.4,242.5 L720.3,243.0 L722.2,243.5 L724.2,244.1 L726.1,244.6 L728.0,245.1 L729.9,245.6 L731.9,246.2 L733.8,246.7 L735.7,247.2 L737.7,247.7 L739.6,248.2 L741.5,248.7 L743.5,249.2 L745.4,249.7 L747.4,250.3 L749.3,250.8 L751.2,251.3 L753.2,251.8 L755.1,252.2 L757.0,252.7 L759.0,253.2 L760.9,253.7 L762.9,254.2 L764.8,254.7 L766.8,255.2 L768.7,255.6 L770.6,256.1 L772.6,256.6 L774.5,257.1 L776.5,257.5 L778.4,258.0 L780.4,258.5 L782.3,258.9 L784.3,259.4 L786.2,259.8 L788.2,260.3 L790.1,260.7 L792.1,261.2 L794.0,261.6 L796.0,262.0 L797.9,262.5 L799.9,262.9 L801.8,263.3 L803.8,263.8 L805.7,264.2 L807.7,264.6 L809.7,265.0 L811.6,265.4 L813.6,265.9 L815.5,266.3 L817.5,266.7 L819.5,267.1 L821.4,267.5 L823.4,267.9 L825.3,268.3 L827.3,268.6 L829.3,269.0 L831.2,269.4 L833.2,269.8 L835.2,270.2 L837.1,270.5 L839.1,270.9 L841.1,271.2 L843.0,271.5 L845.0,271.8 L847.0,272.0 L849.0,272.2 L851.0,272.3 L853.0,272.3 L855.0,272.2 L857.0,272.1 L859.0,271.8 L860.9,271.4 L862.9,270.8 L864.8,270.2 L866.6,269.4 L868.4,268.6 L870.2,267.7 L872.0,266.7 L873.7,265.7 L875.4,264.7 L877.1,263.6 L878.8,262.6 L880.5,261.5 L882.2,260.4 L883.9,259.4 L885.6,258.3 L887.3,257.3 L889.1,256.3 L890.8,255.4 L892.6,254.4 L894.4,253.6 L896.3,252.8 L898.1,252.1 L900.0,251.5 L902.0,251.0 L903.9,250.6 L905.9,250.3 L907.9,250.1 L909.9,249.9 L911.9,249.8 L913.9,249.7 L915.9,249.6 L917.9,249.6 L919.9,249.6 L921.9,249.6 L923.9,249.6 L925.9,249.6 L927.9,249.6 L929.9,249.7 L931.9,249.7 L933.9,249.8 L935.9,249.9 L937.9,250.0 L939.9,250.1 L941.9,250.3 L943.9,250.4 L945.9,250.6 L947.9,250.7 L949.9,250.9 L951.9,251.1 L953.9,251.3 L955.8,251.5 L957.8,251.8 L959.8,252.0 L961.8,252.3 L963.8,252.5 L965.8,252.8 L967.8,253.1 L969.7,253.4 L971.7,253.7 L973.7,254.0 L975.7,254.4 L977.6,254.7 L979.6,255.1 L981.6,255.4 L983.5,255.8 L985.5,256.2 L987.5,256.6 L989.4,257.0 L991.4,257.4 L993.3,257.8 L995.3,258.2 L997.2,258.7 L999.2,259.1 L1001.1,259.6 L1003.1,260.0 L1005.0,260.5 L1007.0,261.0 L1008.9,261.5 L1010.9,262.0 L1012.8,262.5 L1014.7,263.0 L1016.7,263.5 L1018.6,264.0 L1020.5,264.5 L1022.4,265.1 L1024.4,265.6 L1026.3,266.2 L1028.2,266.8 L1030.1,267.3 L1032.0,267.9 L1034.0,268.5 L1035.9,269.1 L1037.8,269.7 L1039.7,270.3 L1041.6,270.9 L1043.5,271.5 L1045.4,272.1 L1047.3,272.7 L1049.2,273.4 L1051.1,274.0 L1053.0,274.6 L1054.9,275.3 L1056.8,275.9 L1058.7,276.6 L1060.6,277.3 L1062.5,277.9 L1064.3,278.6 L1066.2,279.3 L1068.1,280.0 L1070.0,280.7 L1071.8,281.4 L1073.7,282.1 L1075.6,282.9 L1077.4,283.6 L1079.3,284.3 L1081.1,285.1 L1083.0,285.8 L1084.8,286.6 L1086.7,287.4 L1088.5,288.2 L1090.4,289.0 L1092.2,289.8 L1094.0,290.6 L1095.8,291.5 L1097.6,292.3 L1099.4,293.2 L1101.2,294.0 L1103.0,294.9 L1104.8,295.8 L1106.6,296.7 L1108.4,297.6 L1110.2,298.6 L1111.9,299.5 L1113.7,300.5 L1115.4,301.5 L1117.2,302.4 L1118.9,303.4 L1120.6,304.5 L1122.3,305.5 L1124.0,306.5 L1125.7,307.6 L1127.4,308.7 L1129.1,309.8 L1130.8,310.9 L1132.4,312.0 L1134.1,313.1 L1135.7,314.3 L1137.3,315.5 L1138.9,316.6 L1140.5,317.8 L1142.1,319.1 L1143.7,320.3 L1145.3,321.6 L1146.8,322.8 L1148.4,324.1 L1149.9,325.4 L1151.4,326.7 L1152.9,328.0 L1154.4,329.4 L1155.9,330.7 L1157.3,332.1 L1158.8,333.4 L1160.3,334.8 L1161.7,336.2 L1163.1,337.6 L1164.5,339.0 L1166.0,340.4 L1167.4,341.8 L1168.8,343.3 L1170.2,344.7 L1171.5,346.2 L1172.9,347.6 L1174.3,349.1 L1175.7,350.5 L1177.0,352.0 L1178.4,353.5 L1179.7,354.9 L1181.1,356.4 L1182.4,357.9 L1183.8,359.4 L1185.1,360.9 L1186.5,362.4 L1187.8,363.8 L1189.1,365.3 L1190.4,366.8 L1191.8,368.3 L1193.1,369.8 L1194.4,371.3 L1195.8,372.8 L1197.1,374.3 L1198.4,375.8 L1199.7,377.3 L1201.1,378.8 L1202.4,380.3 L1203.7,381.8 L1205.1,383.3 L1206.4,384.8 L1207.7,386.3 L1209.1,387.8 L1210.4,389.3 L1211.7,390.8 L1213.1,392.3 L1214.4,393.8 L1215.7,395.2 L1217.0,396.7 L1218.4,398.2 L1219.7,399.7 L1221.0,401.2 L1222.4,402.7 L1223.7,404.2 L1225.0,405.7 L1226.3,407.2 L1227.7,408.7 L1229.0,410.2 L1230.3,411.7 L1231.6,413.2 L1232.9,414.7 L1234.3,416.2 L1235.6,417.8 L1236.9,419.3 L1238.2,420.8 L1239.5,422.3 L1240.8,423.8 L1242.1,425.3 L1243.4,426.8 L1244.7,428.4 L1246.0,429.9 L1247.3,431.4 L1248.6,432.9 L1249.9,434.5 L1251.2,436.0 L1252.5,437.5 L1253.8,439.1 L1255.0,440.6 L1256.3,442.1 L1257.6,443.7 L1258.9,445.2 L1260.1,446.8 L1261.4,448.3 L1262.7,449.9 L1263.9,451.4 L1265.2,453.0 L1266.4,454.5 L1267.7,456.1 L1268.9,457.7 L1270.2,459.2 L1271.4,460.8 L1272.7,462.4 L1273.9,464.0 L1275.1,465.5 L1276.4,467.1 L1277.6,468.7 L1278.8,470.3 L1280.1,471.8 L1281.3,473.4 L1282.5,475.0 L1283.7,476.6 L1284.9,478.2 L1286.1,479.8 L1287.4,481.4 L1288.6,483.0 L1289.8,484.6 L1291.0,486.2 L1292.2,487.8 L1293.4,489.4 L1294.6,491.0 L1295.7,492.6 L1296.9,494.2 L1298.1,495.8 L1299.3,497.4 L1300.5,499.0 L1301.7,500.7 L1302.9,502.3 L1304.0,503.9 L1305.2,505.5 L1306.4,507.1 L1307.5,508.8 L1308.7,510.4 L1309.9,512.0 L1311.0,513.6 L1312.2,515.3 L1313.4,516.9 L1314.5,518.5 L1315.7,520.2 L1316.8,521.8 L1318.0,523.4 L1319.1,525.1 L1320.3,526.7 L1321.4,528.4 L1322.6,530.0 L1323.7,531.6 L1324.8,533.3 L1326.0,534.9 L1327.1,536.6 L1328.2,538.2 L1329.4,539.9 L1330.5,541.5 L1331.6,543.2 L1332.8,544.8 L1333.9,546.5 L1335.0,548.2 L1336.1,549.8 L1337.2,551.5 L1338.4,553.1 L1339.5,554.8 L1340.6,556.5 L1341.7,558.1 L1342.8,559.8 L1343.9,561.4 L1345.0,563.1 L1346.1,564.8 L1347.3,566.5 L1348.4,568.1 L1349.5,569.8 L1350.6,571.5 L1351.7,573.1 L1352.8,574.8 L1353.9,576.5 L1355.0,578.2 L1356.1,579.8 L1357.1,581.5 L1358.2,583.2 L1359.3,584.9 L1360.4,586.5 L1361.5,588.2 L1362.6,589.9 L1363.7,591.6 L1364.8,593.3 L1365.8,594.9 L1366.9,596.6 L1368.0,598.3 L1369.1,600.0 L1370.2,601.7 L1371.3,603.4 L1372.3,605.0 L1373.4,606.7 L1374.5,608.4 L1375.6,610.1 L1376.6,611.8 L1377.7,613.5 L1378.8,615.2 L1379.9,616.9 L1380.9,618.6 L1382.0,620.2 L1383.1,621.9 L1384.1,623.6 L1385.2,625.3 L1386.3,627.0 L1387.3,628.7 L1388.4,630.4 L1389.5,632.1 L1390.5,633.8 L1391.6,635.5 L1392.7,637.2 L1393.7,638.9 L1394.8,640.6 L1395.8,642.3 L1396.9,644.0 L1398.0,645.7 L1399.0,647.4 L1400.1,649.1 L1401.1,650.8 L1402.2,652.5 L1403.3,654.1 L1404.3,655.8 L1405.4,657.5 L1406.4,659.2 L1407.5,660.9 L1408.6,662.6 L1409.6,664.3 L1410.7,666.0 L1411.7,667.7 L1412.8,669.4 L1413.8,671.1 L1414.9,672.8 L1416.0,674.5 L1417.0,676.2 L1418.1,677.9 L1419.1,679.6 L1420.2,681.3 L1421.2,683.0 L1422.3,684.7 L1423.4,686.4 L1424.4,688.1 L1425.5,689.8 L1426.5,691.5 L1427.6,693.2 L1428.6,694.9 L1429.7,696.6 L1430.8,698.3 L1431.8,700.0 L1432.9,701.7 L1433.9,703.4 L1435.0,705.1 L1436.1,706.8 L1437.1,708.5 L1438.2,710.2 L1439.2,711.9 L1440.3,713.6 L1441.4,715.3 L1442.4,717.0 L1443.5,718.7 L1444.5,720.4 L1445.6,722.1 L1446.7,723.8 L1447.7,725.5 L1448.8,727.2 L1449.9,728.9 L1450.9,730.5 L1452.0,732.2 L1453.1,733.9 L1454.1,735.6 L1455.2,737.3 L1456.3,739.0 L1457.4,740.7 L1458.4,742.4 L1459.5,744.1 L1460.6,745.8 L1461.7,747.4 L1462.7,749.1 L1463.8,750.8 L1464.9,752.5 L1466.0,754.2 L1467.0,755.9 L1468.1,757.6 L1469.2,759.2 L1470.3,760.9 L1471.4,762.6 L1472.5,764.3 L1473.5,766.0 L1474.6,767.7 L1475.7,769.3 L1476.8,771.0 L1477.9,772.7 L1479.0,774.4 L1480.1,776.0 L1481.2,777.7 L1482.3,779.4 L1483.4,781.1 L1484.5,782.8 L1485.5,784.4 L1486.6,786.1 L1487.7,787.8 L1488.8,789.4 L1489.9,791.1 L1491.0,792.8 L1492.1,794.5 L1493.2,796.1 L1494.4,797.8 L1495.5,799.5 L1496.6,801.1 L1497.7,802.8 L1498.8,804.5 L1499.9,806.1 L1501.0,807.8 L1502.1,809.5 L1503.2,811.1 L1504.3,812.8 L1505.4,814.5 L1506.5,816.1 L1507.6,817.8 L1508.8,819.5 L1509.9,821.1 L1511.0,822.8 L1512.1,824.4 L1513.2,826.1 L1514.3,827.8 L1515.4,829.4 L1516.6,831.1 L1517.7,832.7 L1518.8,834.4 L1519.9,836.1 L1521.0,837.7 L1522.2,839.4 L1523.3,841.0 L1524.4,842.7 L1525.5,844.4 L1526.6,846.0 L1527.8,847.7 L1528.9,849.3 L1530.0,851.0 L1531.1,852.6 L1532.3,854.3 L1533.4,856.0 L1534.5,857.6 L1535.6,859.3 L1536.8,860.9 L1537.9,862.6 L1539.0,864.2 L1540.1,865.9 L1541.3,867.5 L1542.4,869.2 L1543.5,870.8 L1544.6,872.5 L1545.8,874.2 L1546.9,875.8 L1548.0,877.5 L1549.2,879.1 L1550.3,880.8 L1551.4,882.4 L1552.5,884.1 L1553.7,885.7 L1554.8,887.4 L1555.9,889.0 L1557.1,890.7 L1558.2,892.3 L1559.3,894.0 L1560.4,895.6 L1561.6,897.3 L1562.7,898.9 L1563.8,900.6 L1565.0,902.2 L1566.1,903.9 L1567.2,905.5 L1568.4,907.2 L1569.5,908.8 L1570.6,910.5 L1571.7,912.1 L1572.9,913.8 L1574.0,915.5 L1575.1,917.1 L1576.3,918.8 L1577.4,920.4 L1578.5,922.1 L1579.7,923.7 L1580.8,925.4 L1581.9,927.0 L1583.0,928.7 L1584.2,930.3 L1585.3,932.0 L1586.4,933.6 L1587.6,935.3 L1588.7,936.9 L1589.8,938.6 L1591.0,940.2 L1592.1,941.9 L1593.2,943.5 L1594.4,945.2 L1595.5,946.8 L1596.7,948.4 L1597.8,950.1 L1598.9,951.7 L1600.1,953.4 L1601.2,955.0 L1602.4,956.7 L1603.5,958.3 L1604.7,959.9 L1605.8,961.6 L1607.0,963.2 L1608.1,964.9 L1609.3,966.5 L1610.4,968.1 L1611.6,969.8 L1612.7,971.4 L1613.9,973.0 L1615.1,974.6 L1616.2,976.3 L1617.4,977.9 L1618.6,979.5 L1619.8,981.1 L1620.9,982.7 L1622.1,984.4 L1623.3,986.0 L1624.5,987.6 L1625.7,989.2 L1626.9,990.8 L1628.0,992.4 L1629.2,994.0 L1630.4,995.6 L1631.6,997.2 L1632.8,998.8 L1634.1,1000.4 L1635.3,1002.0 L1636.5,1003.6 L1637.7,1005.2 L1638.9,1006.8 L1640.1,1008.4 L1641.4,1009.9 L1642.6,1011.5 L1643.8,1013.1 L1645.1,1014.7 L1646.3,1016.2 L1647.6,1017.8 L1648.8,1019.4 L1650.1,1020.9 L1651.3,1022.5 L1652.6,1024.0 L1653.9,1025.6 L1655.1,1027.1 L1656.4,1028.7 L1657.7,1030.2 L1659.0,1031.7 L1660.3,1033.3 L1661.6,1034.8 L1662.9,1036.3 L1664.2,1037.8 L1665.5,1039.3 L1666.8,1040.8 L1668.1,1042.4 L1669.4,1043.9 L1670.8,1045.4 L1672.1,1046.8 L1673.4,1048.3 L1674.8,1049.8 L1676.1,1051.3 L1677.5,1052.8 L1678.8,1054.2 L1680.2,1055.7 L1681.6,1057.2 L1683.0,1058.6 L1684.3,1060.1 L1685.7,1061.5 L1687.1,1062.9 L1688.5,1064.4 L1689.9,1065.8 L1691.3,1067.2 L1692.7,1068.6 L1694.2,1070.1 L1695.6,1071.5 L1697.0,1072.9 L1698.4,1074.2 L1699.9,1075.6 L1701.3,1077.0 L1702.8,1078.4 L1704.2,1079.8 L1705.7,1081.1 L1707.2,1082.5 L1708.6,1083.8 L1710.1,1085.2 L1711.6,1086.5 L1713.1,1087.9 L1714.6,1089.2 L1716.1,1090.5 L1717.6,1091.9 L1719.1,1093.2 L1720.6,1094.5 L1722.1,1095.8 L1723.6,1097.1 L1725.1,1098.4 L1726.7,1099.7 L1728.2,1101.0 L1729.7,1102.3 L1731.3,1103.6 L1732.8,1104.8 L1734.4,1106.1 L1735.9,1107.4 L1737.5,1108.7 L1739.0,1109.9 L1740.6,1111.2 L1742.1,1112.4 L1743.7,1113.7 L1745.3,1114.9 L1746.8,1116.2 L1748.4,1117.4 L1750.0,1118.6 L1751.6,1119.8 L1753.1,1121.1 L1754.7,1122.3 L1756.3,1123.5 L1757.9,1124.7 L1759.5,1125.9 L1761.1,1127.1 L1762.7,1128.3 L1764.3,1129.5 L1765.9,1130.7 L1767.5,1131.9 L1769.1,1133.1 L1770.7,1134.3 L1772.4,1135.5 L1774.0,1136.7 L1775.6,1137.8 L1777.2,1139.0 L1778.8,1140.2 L1780.5,1141.4 L1782.1,1142.5 L1783.7,1143.7 L1785.3,1144.8 L1787.0,1146.0 L1788.6,1147.2 L1790.2,1148.3 L1791.9,1149.5 L1793.5,1150.6 L1795.2,1151.8 L1796.8,1152.9 L1798.4,1154.0 L1800.1,1155.2 L1801.7,1156.3 L1803.4,1157.5 L1805.0,1158.6 L1806.7,1159.7 L1808.3,1160.8 L1810.0,1162.0 L1811.7,1163.1 L1813.3,1164.2 L1815.0,1165.3 L1816.6,1166.4 L1818.3,1167.6 L1820.0,1168.7 L1821.6,1169.8 L1823.3,1170.9 L1825.0,1172.0 L1826.7,1173.1 L1828.3,1174.1 L1830.0,1175.2 L1831.7,1176.3 L1833.4,1177.4 L1835.1,1178.5 L1836.7,1179.6 L1838.4,1180.6 L1840.1,1181.7 L1841.8,1182.8 L1843.5,1183.8 L1845.2,1184.9 L1846.9,1186.0 L1848.6,1187.0 L1850.3,1188.1 L1852.0,1189.1 L1853.7,1190.1 L1855.4,1191.2 L1857.2,1192.2 L1858.9,1193.3 L1860.6,1194.3 L1862.3,1195.3 L1864.0,1196.3 L1865.7,1197.3 L1867.5,1198.4 L1869.2,1199.4 L1870.9,1200.4 L1872.7,1201.4 L1874.4,1202.4 L1876.1,1203.4 L1877.9,1204.4 L1879.6,1205.3 L1881.4,1206.3 L1883.1,1207.3 L1884.9,1208.3 L1886.6,1209.2 L1888.4,1210.2 L1890.1,1211.2 L1891.9,1212.1 L1893.6,1213.1 L1895.4,1214.0 L1897.2,1215.0 L1898.9,1215.9 L1900.7,1216.8 L1902.5,1217.8 L1904.2,1218.7 L1906.0,1219.6 L1907.8,1220.5 L1909.6,1221.4 L1911.4,1222.4 L1913.1,1223.3 L1914.9,1224.2 L1916.7,1225.1 L1918.5,1226.0 L1920.3,1226.9 L1922.1,1227.7 L1923.9,1228.6 L1925.7,1229.5 L1927.5,1230.4 L1929.3,1231.3 L1931.1,1232.1 L1932.9,1233.0 L1934.7,1233.9 L1936.5,1234.7 L1938.3,1235.6 L1940.1,1236.4 L1941.9,1237.3 L1943.7,1238.1 L1945.5,1239.0 L1947.4,1239.8 L1949.2,1240.7 L1951.0,1241.5 L1952.8,1242.4 L1954.6,1243.2 L1956.5,1244.0 L1958.3,1244.8 L1960.1,1245.7 L1961.9,1246.5 L1963.7,1247.3 L1965.6,1248.1 L1967.4,1248.9 L1969.2,1249.8 L1971.1,1250.6 L1972.9,1251.4 L1974.7,1252.2 L1976.6,1253.0 L1978.4,1253.8 L1980.2,1254.6 L1982.1,1255.4 L1983.9,1256.2 L1985.7,1257.0 L1987.6,1257.8 L1989.4,1258.6 L1991.2,1259.4 L1993.1,1260.2 L1994.9,1260.9 L1996.8,1261.7 L1998.6,1262.5 L2000.4,1263.3 L2002.3,1264.1 L2004.1,1264.9 L2006.0,1265.7 L2007.8,1266.4 L2009.6,1267.2 L2011.5,1268.0 L2013.3,1268.8 L2015.2,1269.5 L2017.0,1270.3 L2018.9,1271.1 L2020.7,1271.9 L2022.6,1272.6 L2024.4,1273.4 L2026.3,1274.2 L2028.1,1275.0 L2029.9,1275.7 L2031.8,1276.5 L2033.6,1277.3 L2035.5,1278.0 L2037.3,1278.8 L2039.2,1279.6 L2041.0,1280.3 L2042.9,1281.1 L2044.7,1281.9 L2046.6,1282.7 L2048.4,1283.4 L2050.3,1284.2 L2052.1,1285.0 L2054.0,1285.7 L2055.8,1286.5 L2057.7,1287.3 L2059.5,1288.0 L2061.3,1288.8 L2063.2,1289.6 L2065.0,1290.4 L2066.9,1291.1 L2068.7,1291.9 L2070.6,1292.7 L2072.4,1293.5 L2074.3,1294.2 L2076.1,1295.0 L2078.0,1295.8 L2079.8,1296.6 L2081.6,1297.4 L2083.5,1298.1 L2085.3,1298.9 L2087.2,1299.7 L2089.0,1300.5" fill="none" stroke="#fff" stroke-width="13.5" stroke-linecap="round" stroke-linejoin="round"/><path d="M444.9,158.2 L446.8,158.8 L448.7,159.3 L450.7,159.9 L452.6,160.5 L454.5,161.0 L456.4,161.6 L458.3,162.2 L460.3,162.7 L462.2,163.3 L464.1,163.9 L466.0,164.5 L467.9,165.0 L469.8,165.6 L471.7,166.2 L473.7,166.8 L475.6,167.4 L477.5,168.0 L479.4,168.5 L481.3,169.1 L483.2,169.7 L485.1,170.3 L487.1,170.9 L489.0,171.5 L490.9,172.1 L492.8,172.7 L494.7,173.3 L496.6,173.9 L498.5,174.4 L500.4,175.0 L502.3,175.6 L504.3,176.2 L506.2,176.8 L508.1,177.4 L510.0,178.0 L511.9,178.6 L513.8,179.2 L515.7,179.8 L517.6,180.4 L519.5,181.0 L521.4,181.6 L523.3,182.2 L525.3,182.9 L527.2,183.5 L529.1,184.1 L531.0,184.7 L532.9,185.3 L534.8,185.9 L536.7,186.5 L538.6,187.1 L540.5,187.7 L542.4,188.3 L544.3,188.9 L546.2,189.5 L548.1,190.1 L550.0,190.7 L551.9,191.4 L553.9,192.0 L555.8,192.6 L557.7,193.2 L559.6,193.8 L561.5,194.4 L563.4,195.0 L565.3,195.6 L567.2,196.2 L569.1,196.8 L571.0,197.5 L572.9,198.1 L574.8,198.7 L576.7,199.3 L578.6,199.9 L580.5,200.5 L582.4,201.1 L584.3,201.7 L586.3,202.3 L588.2,202.9 L590.1,203.6 L592.0,204.2 L593.9,204.8 L595.8,205.4 L597.7,206.0 L599.6,206.6 L601.5,207.2 L603.4,207.8 L605.3,208.4 L607.2,209.0 L609.1,209.6 L611.0,210.2 L613.0,210.8 L614.9,211.4 L616.8,212.0 L618.7,212.6 L620.6,213.2 L622.5,213.8 L624.4,214.4 L626.3,215.0 L628.2,215.6 L630.1,216.2 L632.0,216.8 L634.0,217.4 L635.9,218.0 L637.8,218.6 L639.7,219.2 L641.6,219.8 L643.5,220.4 L645.4,221.0 L647.3,221.6 L649.2,222.2 L651.2,222.7 L653.1,223.3 L655.0,223.9 L656.9,224.5 L658.8,225.1 L660.7,225.7 L662.6,226.2 L664.6,226.8 L666.5,227.4 L668.4,228.0 L670.3,228.6 L672.2,229.1 L674.1,229.7 L676.1,230.3 L678.0,230.8 L679.9,231.4 L681.8,232.0 L683.7,232.5 L685.7,233.1 L687.6,233.7 L689.5,234.2 L691.4,234.8 L693.3,235.4 L695.3,235.9 L697.2,236.5 L699.1,237.0 L701.0,237.6 L703.0,238.1 L704.9,238.7 L706.8,239.2 L708.7,239.8 L710.7,240.3 L712.6,240.8 L714.5,241.4 L716.4,241.9 L718.4,242.5 L720.3,243.0 L722.2,243.5 L724.2,244.1 L726.1,244.6 L728.0,245.1 L729.9,245.6 L731.9,246.2 L733.8,246.7 L735.7,247.2 L737.7,247.7 L739.6,248.2 L741.5,248.7 L743.5,249.2 L745.4,249.7 L747.4,250.3 L749.3,250.8 L751.2,251.3 L753.2,251.8 L755.1,252.2 L757.0,252.7 L759.0,253.2 L760.9,253.7 L762.9,254.2 L764.8,254.7 L766.8,255.2 L768.7,255.6 L770.6,256.1 L772.6,256.6 L774.5,257.1 L776.5,257.5 L778.4,258.0 L780.4,258.5 L782.3,258.9 L784.3,259.4 L786.2,259.8 L788.2,260.3 L790.1,260.7 L792.1,261.2 L794.0,261.6 L796.0,262.0 L797.9,262.5 L799.9,262.9 L801.8,263.3 L803.8,263.8 L805.7,264.2 L807.7,264.6 L809.7,265.0 L811.6,265.4 L813.6,265.9 L815.5,266.3 L817.5,266.7 L819.5,267.1 L821.4,267.5 L823.4,267.9 L825.3,268.3 L827.3,268.6 L829.3,269.0 L831.2,269.4 L833.2,269.8 L835.2,270.2 L837.1,270.5 L839.1,270.9 L841.1,271.2 L843.0,271.5 L845.0,271.8 L847.0,272.0 L849.0,272.2 L851.0,272.3 L853.0,272.3 L855.0,272.2 L857.0,272.1 L859.0,271.8 L860.9,271.4 L862.9,270.8 L864.8,270.2 L866.6,269.4 L868.4,268.6 L870.2,267.7 L872.0,266.7 L873.7,265.7 L875.4,264.7 L877.1,263.6 L878.8,262.6 L880.5,261.5 L882.2,260.4 L883.9,259.4 L885.6,258.3 L887.3,257.3 L889.1,256.3 L890.8,255.4 L892.6,254.4 L894.4,253.6 L896.3,252.8 L898.1,252.1 L900.0,251.5 L902.0,251.0 L903.9,250.6 L905.9,250.3 L907.9,250.1 L909.9,249.9 L911.9,249.8 L913.9,249.7 L915.9,249.6 L917.9,249.6 L919.9,249.6 L921.9,249.6 L923.9,249.6 L925.9,249.6 L927.9,249.6 L929.9,249.7 L931.9,249.7 L933.9,249.8 L935.9,249.9 L937.9,250.0 L939.9,250.1 L941.9,250.3 L943.9,250.4 L945.9,250.6 L947.9,250.7 L949.9,250.9 L951.9,251.1 L953.9,251.3 L955.8,251.5 L957.8,251.8 L959.8,252.0 L961.8,252.3 L963.8,252.5 L965.8,252.8 L967.8,253.1 L969.7,253.4 L971.7,253.7 L973.7,254.0 L975.7,254.4 L977.6,254.7 L979.6,255.1 L981.6,255.4 L983.5,255.8 L985.5,256.2 L987.5,256.6 L989.4,257.0 L991.4,257.4 L993.3,257.8 L995.3,258.2 L997.2,258.7 L999.2,259.1 L1001.1,259.6 L1003.1,260.0 L1005.0,260.5 L1007.0,261.0 L1008.9,261.5 L1010.9,262.0 L1012.8,262.5 L1014.7,263.0 L1016.7,263.5 L1018.6,264.0 L1020.5,264.5 L1022.4,265.1 L1024.4,265.6 L1026.3,266.2 L1028.2,266.8 L1030.1,267.3 L1032.0,267.9 L1034.0,268.5 L1035.9,269.1 L1037.8,269.7 L1039.7,270.3 L1041.6,270.9 L1043.5,271.5 L1045.4,272.1 L1047.3,272.7 L1049.2,273.4 L1051.1,274.0 L1053.0,274.6 L1054.9,275.3 L1056.8,275.9 L1058.7,276.6 L1060.6,277.3 L1062.5,277.9 L1064.3,278.6 L1066.2,279.3 L1068.1,280.0 L1070.0,280.7 L1071.8,281.4 L1073.7,282.1 L1075.6,282.9 L1077.4,283.6 L1079.3,284.3 L1081.1,285.1 L1083.0,285.8 L1084.8,286.6 L1086.7,287.4 L1088.5,288.2 L1090.4,289.0 L1092.2,289.8 L1094.0,290.6 L1095.8,291.5 L1097.6,292.3 L1099.4,293.2 L1101.2,294.0 L1103.0,294.9 L1104.8,295.8 L1106.6,296.7 L1108.4,297.6 L1110.2,298.6 L1111.9,299.5 L1113.7,300.5 L1115.4,301.5 L1117.2,302.4 L1118.9,303.4 L1120.6,304.5 L1122.3,305.5 L1124.0,306.5 L1125.7,307.6 L1127.4,308.7 L1129.1,309.8 L1130.8,310.9 L1132.4,312.0 L1134.1,313.1 L1135.7,314.3 L1137.3,315.5 L1138.9,316.6 L1140.5,317.8 L1142.1,319.1 L1143.7,320.3 L1145.3,321.6 L1146.8,322.8 L1148.4,324.1 L1149.9,325.4 L1151.4,326.7 L1152.9,328.0 L1154.4,329.4 L1155.9,330.7 L1157.3,332.1 L1158.8,333.4 L1160.3,334.8 L1161.7,336.2 L1163.1,337.6 L1164.5,339.0 L1166.0,340.4 L1167.4,341.8 L1168.8,343.3 L1170.2,344.7 L1171.5,346.2 L1172.9,347.6 L1174.3,349.1 L1175.7,350.5 L1177.0,352.0 L1178.4,353.5 L1179.7,354.9 L1181.1,356.4 L1182.4,357.9 L1183.8,359.4 L1185.1,360.9 L1186.5,362.4 L1187.8,363.8 L1189.1,365.3 L1190.4,366.8 L1191.8,368.3 L1193.1,369.8 L1194.4,371.3 L1195.8,372.8 L1197.1,374.3 L1198.4,375.8 L1199.7,377.3 L1201.1,378.8 L1202.4,380.3 L1203.7,381.8 L1205.1,383.3 L1206.4,384.8 L1207.7,386.3 L1209.1,387.8 L1210.4,389.3 L1211.7,390.8 L1213.1,392.3 L1214.4,393.8 L1215.7,395.2 L1217.0,396.7 L1218.4,398.2 L1219.7,399.7 L1221.0,401.2 L1222.4,402.7 L1223.7,404.2 L1225.0,405.7 L1226.3,407.2 L1227.7,408.7 L1229.0,410.2 L1230.3,411.7 L1231.6,413.2 L1232.9,414.7 L1234.3,416.2 L1235.6,417.8 L1236.9,419.3 L1238.2,420.8 L1239.5,422.3 L1240.8,423.8 L1242.1,425.3 L1243.4,426.8 L1244.7,428.4 L1246.0,429.9 L1247.3,431.4 L1248.6,432.9 L1249.9,434.5 L1251.2,436.0 L1252.5,437.5 L1253.8,439.1 L1255.0,440.6 L1256.3,442.1 L1257.6,443.7 L1258.9,445.2 L1260.1,446.8 L1261.4,448.3 L1262.7,449.9 L1263.9,451.4 L1265.2,453.0 L1266.4,454.5 L1267.7,456.1 L1268.9,457.7 L1270.2,459.2 L1271.4,460.8 L1272.7,462.4 L1273.9,464.0 L1275.1,465.5 L1276.4,467.1 L1277.6,468.7 L1278.8,470.3 L1280.1,471.8 L1281.3,473.4 L1282.5,475.0 L1283.7,476.6 L1284.9,478.2 L1286.1,479.8 L1287.4,481.4 L1288.6,483.0 L1289.8,484.6 L1291.0,486.2 L1292.2,487.8 L1293.4,489.4 L1294.6,491.0 L1295.7,492.6 L1296.9,494.2 L1298.1,495.8 L1299.3,497.4 L1300.5,499.0 L1301.7,500.7 L1302.9,502.3 L1304.0,503.9 L1305.2,505.5 L1306.4,507.1 L1307.5,508.8 L1308.7,510.4 L1309.9,512.0 L1311.0,513.6 L1312.2,515.3 L1313.4,516.9 L1314.5,518.5 L1315.7,520.2 L1316.8,521.8 L1318.0,523.4 L1319.1,525.1 L1320.3,526.7 L1321.4,528.4 L1322.6,530.0 L1323.7,531.6 L1324.8,533.3 L1326.0,534.9 L1327.1,536.6 L1328.2,538.2 L1329.4,539.9 L1330.5,541.5 L1331.6,543.2 L1332.8,544.8 L1333.9,546.5 L1335.0,548.2 L1336.1,549.8 L1337.2,551.5 L1338.4,553.1 L1339.5,554.8 L1340.6,556.5 L1341.7,558.1 L1342.8,559.8 L1343.9,561.4 L1345.0,563.1 L1346.1,564.8 L1347.3,566.5 L1348.4,568.1 L1349.5,569.8 L1350.6,571.5 L1351.7,573.1 L1352.8,574.8 L1353.9,576.5 L1355.0,578.2 L1356.1,579.8 L1357.1,581.5 L1358.2,583.2 L1359.3,584.9 L1360.4,586.5 L1361.5,588.2 L1362.6,589.9 L1363.7,591.6 L1364.8,593.3 L1365.8,594.9 L1366.9,596.6 L1368.0,598.3 L1369.1,600.0 L1370.2,601.7 L1371.3,603.4 L1372.3,605.0 L1373.4,606.7 L1374.5,608.4 L1375.6,610.1 L1376.6,611.8 L1377.7,613.5 L1378.8,615.2 L1379.9,616.9 L1380.9,618.6 L1382.0,620.2 L1383.1,621.9 L1384.1,623.6 L1385.2,625.3 L1386.3,627.0 L1387.3,628.7 L1388.4,630.4 L1389.5,632.1 L1390.5,633.8 L1391.6,635.5 L1392.7,637.2 L1393.7,638.9 L1394.8,640.6 L1395.8,642.3 L1396.9,644.0 L1398.0,645.7 L1399.0,647.4 L1400.1,649.1 L1401.1,650.8 L1402.2,652.5 L1403.3,654.1 L1404.3,655.8 L1405.4,657.5 L1406.4,659.2 L1407.5,660.9 L1408.6,662.6 L1409.6,664.3 L1410.7,666.0 L1411.7,667.7 L1412.8,669.4 L1413.8,671.1 L1414.9,672.8 L1416.0,674.5 L1417.0,676.2 L1418.1,677.9 L1419.1,679.6 L1420.2,681.3 L1421.2,683.0 L1422.3,684.7 L1423.4,686.4 L1424.4,688.1 L1425.5,689.8 L1426.5,691.5 L1427.6,693.2 L1428.6,694.9 L1429.7,696.6 L1430.8,698.3 L1431.8,700.0 L1432.9,701.7 L1433.9,703.4 L1435.0,705.1 L1436.1,706.8 L1437.1,708.5 L1438.2,710.2 L1439.2,711.9 L1440.3,713.6 L1441.4,715.3 L1442.4,717.0 L1443.5,718.7 L1444.5,720.4 L1445.6,722.1 L1446.7,723.8 L1447.7,725.5 L1448.8,727.2 L1449.9,728.9 L1450.9,730.5 L1452.0,732.2 L1453.1,733.9 L1454.1,735.6 L1455.2,737.3 L1456.3,739.0 L1457.4,740.7 L1458.4,742.4 L1459.5,744.1 L1460.6,745.8 L1461.7,747.4 L1462.7,749.1 L1463.8,750.8 L1464.9,752.5 L1466.0,754.2 L1467.0,755.9 L1468.1,757.6 L1469.2,759.2 L1470.3,760.9 L1471.4,762.6 L1472.5,764.3 L1473.5,766.0 L1474.6,767.7 L1475.7,769.3 L1476.8,771.0 L1477.9,772.7 L1479.0,774.4 L1480.1,776.0 L1481.2,777.7 L1482.3,779.4 L1483.4,781.1 L1484.5,782.8 L1485.5,784.4 L1486.6,786.1 L1487.7,787.8 L1488.8,789.4 L1489.9,791.1 L1491.0,792.8 L1492.1,794.5 L1493.2,796.1 L1494.4,797.8 L1495.5,799.5 L1496.6,801.1 L1497.7,802.8 L1498.8,804.5 L1499.9,806.1 L1501.0,807.8 L1502.1,809.5 L1503.2,811.1 L1504.3,812.8 L1505.4,814.5 L1506.5,816.1 L1507.6,817.8 L1508.8,819.5 L1509.9,821.1 L1511.0,822.8 L1512.1,824.4 L1513.2,826.1 L1514.3,827.8 L1515.4,829.4 L1516.6,831.1 L1517.7,832.7 L1518.8,834.4 L1519.9,836.1 L1521.0,837.7 L1522.2,839.4 L1523.3,841.0 L1524.4,842.7 L1525.5,844.4 L1526.6,846.0 L1527.8,847.7 L1528.9,849.3 L1530.0,851.0 L1531.1,852.6 L1532.3,854.3 L1533.4,856.0 L1534.5,857.6 L1535.6,859.3 L1536.8,860.9 L1537.9,862.6 L1539.0,864.2 L1540.1,865.9 L1541.3,867.5 L1542.4,869.2 L1543.5,870.8 L1544.6,872.5 L1545.8,874.2 L1546.9,875.8 L1548.0,877.5 L1549.2,879.1 L1550.3,880.8 L1551.4,882.4 L1552.5,884.1 L1553.7,885.7 L1554.8,887.4 L1555.9,889.0 L1557.1,890.7 L1558.2,892.3 L1559.3,894.0 L1560.4,895.6 L1561.6,897.3 L1562.7,898.9 L1563.8,900.6 L1565.0,902.2 L1566.1,903.9 L1567.2,905.5 L1568.4,907.2 L1569.5,908.8 L1570.6,910.5 L1571.7,912.1 L1572.9,913.8 L1574.0,915.5 L1575.1,917.1 L1576.3,918.8 L1577.4,920.4 L1578.5,922.1 L1579.7,923.7 L1580.8,925.4 L1581.9,927.0 L1583.0,928.7 L1584.2,930.3 L1585.3,932.0 L1586.4,933.6 L1587.6,935.3 L1588.7,936.9 L1589.8,938.6 L1591.0,940.2 L1592.1,941.9 L1593.2,943.5 L1594.4,945.2 L1595.5,946.8 L1596.7,948.4 L1597.8,950.1 L1598.9,951.7 L1600.1,953.4 L1601.2,955.0 L1602.4,956.7 L1603.5,958.3 L1604.7,959.9 L1605.8,961.6 L1607.0,963.2 L1608.1,964.9 L1609.3,966.5 L1610.4,968.1 L1611.6,969.8 L1612.7,971.4 L1613.9,973.0 L1615.1,974.6 L1616.2,976.3 L1617.4,977.9 L1618.6,979.5 L1619.8,981.1 L1620.9,982.7 L1622.1,984.4 L1623.3,986.0 L1624.5,987.6 L1625.7,989.2 L1626.9,990.8 L1628.0,992.4 L1629.2,994.0 L1630.4,995.6 L1631.6,997.2 L1632.8,998.8 L1634.1,1000.4 L1635.3,1002.0 L1636.5,1003.6 L1637.7,1005.2 L1638.9,1006.8 L1640.1,1008.4 L1641.4,1009.9 L1642.6,1011.5 L1643.8,1013.1 L1645.1,1014.7 L1646.3,1016.2 L1647.6,1017.8 L1648.8,1019.4 L1650.1,1020.9 L1651.3,1022.5 L1652.6,1024.0 L1653.9,1025.6 L1655.1,1027.1 L1656.4,1028.7 L1657.7,1030.2 L1659.0,1031.7 L1660.3,1033.3 L1661.6,1034.8 L1662.9,1036.3 L1664.2,1037.8 L1665.5,1039.3 L1666.8,1040.8 L1668.1,1042.4 L1669.4,1043.9 L1670.8,1045.4 L1672.1,1046.8 L1673.4,1048.3 L1674.8,1049.8 L1676.1,1051.3 L1677.5,1052.8 L1678.8,1054.2 L1680.2,1055.7 L1681.6,1057.2 L1683.0,1058.6 L1684.3,1060.1 L1685.7,1061.5 L1687.1,1062.9 L1688.5,1064.4 L1689.9,1065.8 L1691.3,1067.2 L1692.7,1068.6 L1694.2,1070.1 L1695.6,1071.5 L1697.0,1072.9 L1698.4,1074.2 L1699.9,1075.6 L1701.3,1077.0 L1702.8,1078.4 L1704.2,1079.8 L1705.7,1081.1 L1707.2,1082.5 L1708.6,1083.8 L1710.1,1085.2 L1711.6,1086.5 L1713.1,1087.9 L1714.6,1089.2 L1716.1,1090.5 L1717.6,1091.9 L1719.1,1093.2 L1720.6,1094.5 L1722.1,1095.8 L1723.6,1097.1 L1725.1,1098.4 L1726.7,1099.7 L1728.2,1101.0 L1729.7,1102.3 L1731.3,1103.6 L1732.8,1104.8 L1734.4,1106.1 L1735.9,1107.4 L1737.5,1108.7 L1739.0,1109.9 L1740.6,1111.2 L1742.1,1112.4 L1743.7,1113.7 L1745.3,1114.9 L1746.8,1116.2 L1748.4,1117.4 L1750.0,1118.6 L1751.6,1119.8 L1753.1,1121.1 L1754.7,1122.3 L1756.3,1123.5 L1757.9,1124.7 L1759.5,1125.9 L1761.1,1127.1 L1762.7,1128.3 L1764.3,1129.5 L1765.9,1130.7 L1767.5,1131.9 L1769.1,1133.1 L1770.7,1134.3 L1772.4,1135.5 L1774.0,1136.7 L1775.6,1137.8 L1777.2,1139.0 L1778.8,1140.2 L1780.5,1141.4 L1782.1,1142.5 L1783.7,1143.7 L1785.3,1144.8 L1787.0,1146.0 L1788.6,1147.2 L1790.2,1148.3 L1791.9,1149.5 L1793.5,1150.6 L1795.2,1151.8 L1796.8,1152.9 L1798.4,1154.0 L1800.1,1155.2 L1801.7,1156.3 L1803.4,1157.5 L1805.0,1158.6 L1806.7,1159.7 L1808.3,1160.8 L1810.0,1162.0 L1811.7,1163.1 L1813.3,1164.2 L1815.0,1165.3 L1816.6,1166.4 L1818.3,1167.6 L1820.0,1168.7 L1821.6,1169.8 L1823.3,1170.9 L1825.0,1172.0 L1826.7,1173.1 L1828.3,1174.1 L1830.0,1175.2 L1831.7,1176.3 L1833.4,1177.4 L1835.1,1178.5 L1836.7,1179.6 L1838.4,1180.6 L1840.1,1181.7 L1841.8,1182.8 L1843.5,1183.8 L1845.2,1184.9 L1846.9,1186.0 L1848.6,1187.0 L1850.3,1188.1 L1852.0,1189.1 L1853.7,1190.1 L1855.4,1191.2 L1857.2,1192.2 L1858.9,1193.3 L1860.6,1194.3 L1862.3,1195.3 L1864.0,1196.3 L1865.7,1197.3 L1867.5,1198.4 L1869.2,1199.4 L1870.9,1200.4 L1872.7,1201.4 L1874.4,1202.4 L1876.1,1203.4 L1877.9,1204.4 L1879.6,1205.3 L1881.4,1206.3 L1883.1,1207.3 L1884.9,1208.3 L1886.6,1209.2 L1888.4,1210.2 L1890.1,1211.2 L1891.9,1212.1 L1893.6,1213.1 L1895.4,1214.0 L1897.2,1215.0 L1898.9,1215.9 L1900.7,1216.8 L1902.5,1217.8 L1904.2,1218.7 L1906.0,1219.6 L1907.8,1220.5 L1909.6,1221.4 L1911.4,1222.4 L1913.1,1223.3 L1914.9,1224.2 L1916.7,1225.1 L1918.5,1226.0 L1920.3,1226.9 L1922.1,1227.7 L1923.9,1228.6 L1925.7,1229.5 L1927.5,1230.4 L1929.3,1231.3 L1931.1,1232.1 L1932.9,1233.0 L1934.7,1233.9 L1936.5,1234.7 L1938.3,1235.6 L1940.1,1236.4 L1941.9,1237.3 L1943.7,1238.1 L1945.5,1239.0 L1947.4,1239.8 L1949.2,1240.7 L1951.0,1241.5 L1952.8,1242.4 L1954.6,1243.2 L1956.5,1244.0 L1958.3,1244.8 L1960.1,1245.7 L1961.9,1246.5 L1963.7,1247.3 L1965.6,1248.1 L1967.4,1248.9 L1969.2,1249.8 L1971.1,1250.6 L1972.9,1251.4 L1974.7,1252.2 L1976.6,1253.0 L1978.4,1253.8 L1980.2,1254.6 L1982.1,1255.4 L1983.9,1256.2 L1985.7,1257.0 L1987.6,1257.8 L1989.4,1258.6 L1991.2,1259.4 L1993.1,1260.2 L1994.9,1260.9 L1996.8,1261.7 L1998.6,1262.5 L2000.4,1263.3 L2002.3,1264.1 L2004.1,1264.9 L2006.0,1265.7 L2007.8,1266.4 L2009.6,1267.2 L2011.5,1268.0 L2013.3,1268.8 L2015.2,1269.5 L2017.0,1270.3 L2018.9,1271.1 L2020.7,1271.9 L2022.6,1272.6 L2024.4,1273.4 L2026.3,1274.2 L2028.1,1275.0 L2029.9,1275.7 L2031.8,1276.5 L2033.6,1277.3 L2035.5,1278.0 L2037.3,1278.8 L2039.2,1279.6 L2041.0,1280.3 L2042.9,1281.1 L2044.7,1281.9 L2046.6,1282.7 L2048.4,1283.4 L2050.3,1284.2 L2052.1,1285.0 L2054.0,1285.7 L2055.8,1286.5 L2057.7,1287.3 L2059.5,1288.0 L2061.3,1288.8 L2063.2,1289.6 L2065.0,1290.4 L2066.9,1291.1 L2068.7,1291.9 L2070.6,1292.7 L2072.4,1293.5 L2074.3,1294.2 L2076.1,1295.0 L2078.0,1295.8 L2079.8,1296.6 L2081.6,1297.4 L2083.5,1298.1 L2085.3,1298.9 L2087.2,1299.7 L2089.0,1300.5" fill="none" stroke="#000" stroke-width="3.0" stroke-linecap="butt" stroke-linejoin="round"/></mask><mask id="m_lgi" maskUnits="userSpaceOnUse" x="0" y="0" width="2191" height="1359"><path d="M364.8,1083.4 L575.2,1083.4" fill="none" stroke="#fff" stroke-width="13.5" stroke-linecap="round" stroke-linejoin="round" stroke-dasharray="38 49.5" stroke-dashoffset="0"/><path d="M364.8,1083.4 L575.2,1083.4" fill="none" stroke="#000" stroke-width="3.0" stroke-linecap="butt" stroke-linejoin="round" stroke-dasharray="38 49.5" stroke-dashoffset="0"/></mask><mask id="m_lga" maskUnits="userSpaceOnUse" x="0" y="0" width="2191" height="1359"><path d="M364.8,1283.0 L575.2,1283.0" fill="none" stroke="#fff" stroke-width="13.5" stroke-linecap="round" stroke-linejoin="round"/><path d="M364.8,1283.0 L575.2,1283.0" fill="none" stroke="#000" stroke-width="3.0" stroke-linecap="butt" stroke-linejoin="round"/></mask><clipPath id="pa"><rect x="0" y="157.2" width="2191" height="1359"/></clipPath></defs>
<rect x="327" y="154" width="1762" height="8" fill="#BFBFBF"/>
<rect x="324" y="158" width="7" height="1143" fill="#BFBFBF"/>
<rect x="519.2" y="158" width="8" height="23" fill="#BFBFBF"/>
<rect x="714.9" y="158" width="8" height="23" fill="#BFBFBF"/>
<rect x="910.7" y="158" width="8" height="23" fill="#BFBFBF"/>
<rect x="1106.4" y="158" width="8" height="23" fill="#BFBFBF"/>
<rect x="1302.1" y="158" width="8" height="23" fill="#BFBFBF"/>
<rect x="1497.8" y="158" width="8" height="23" fill="#BFBFBF"/>
<rect x="1693.5" y="158" width="8" height="23" fill="#BFBFBF"/>
<rect x="1889.3" y="158" width="8" height="23" fill="#BFBFBF"/>
<rect x="2085.0" y="158" width="8" height="23" fill="#BFBFBF"/>
<rect x="327" y="383.0" width="23" height="7" fill="#BFBFBF"/>
<rect x="327" y="611.5" width="23" height="7" fill="#BFBFBF"/>
<rect x="327" y="840.0" width="23" height="7" fill="#BFBFBF"/>
<rect x="327" y="1068.5" width="23" height="7" fill="#BFBFBF"/>
<rect x="327" y="1297.0" width="23" height="7" fill="#BFBFBF"/>
<g clip-path="url(#pa)">
<path d="M444.9,158.2 L446.3,159.6 L447.8,161.0 L449.2,162.4 L450.6,163.8 L452.1,165.2 L453.5,166.6 L454.9,168.0 L456.4,169.4 L457.8,170.8 L459.2,172.2 L460.7,173.6 L462.1,174.9 L463.6,176.3 L465.0,177.7 L466.4,179.1 L467.9,180.5 L469.3,181.9 L470.7,183.3 L472.2,184.7 L473.6,186.1 L475.0,187.5 L476.5,188.9 L477.9,190.3 L479.4,191.7 L480.8,193.1 L482.2,194.4 L483.7,195.8 L485.1,197.2 L486.6,198.6 L488.0,200.0 L489.4,201.4 L490.9,202.8 L492.3,204.2 L493.8,205.6 L495.2,207.0 L496.6,208.4 L498.1,209.7 L499.5,211.1 L501.0,212.5 L502.4,213.9 L503.8,215.3 L505.3,216.7 L506.7,218.1 L508.2,219.5 L509.6,220.9 L511.0,222.2 L512.5,223.6 L513.9,225.0 L515.4,226.4 L516.8,227.8 L518.2,229.2 L519.7,230.6 L521.1,232.0 L522.6,233.3 L524.0,234.7 L525.5,236.1 L526.9,237.5 L528.3,238.9 L529.8,240.3 L531.2,241.7 L532.7,243.1 L534.1,244.4 L535.6,245.8 L537.0,247.2 L538.5,248.6 L539.9,250.0 L541.3,251.4 L542.8,252.8 L544.2,254.1 L545.7,255.5 L547.1,256.9 L548.6,258.3 L550.0,259.7 L551.5,261.1 L552.9,262.5 L554.3,263.8 L555.8,265.2 L557.2,266.6 L558.7,268.0 L560.1,269.4 L561.6,270.8 L563.0,272.2 L564.5,273.5 L565.9,274.9 L567.4,276.3 L568.8,277.7 L570.2,279.1 L571.7,280.5 L573.1,281.8 L574.6,283.2 L576.0,284.6 L577.5,286.0 L578.9,287.4 L580.4,288.8 L581.8,290.1 L583.3,291.5 L584.7,292.9 L586.1,294.3 L587.6,295.7 L589.0,297.1 L590.5,298.4 L591.9,299.8 L593.4,301.2 L594.8,302.6 L596.3,304.0 L597.7,305.4 L599.2,306.7 L600.6,308.1 L602.1,309.5 L603.5,310.9 L605.0,312.3 L606.4,313.7 L607.9,315.0 L609.3,316.4 L610.7,317.8 L612.2,319.2 L613.6,320.6 L615.1,322.0 L616.5,323.3 L618.0,324.7 L619.4,326.1 L620.9,327.5 L622.3,328.9 L623.8,330.2 L625.2,331.6 L626.7,333.0 L628.1,334.4 L629.6,335.8 L631.0,337.2 L632.5,338.5 L633.9,339.9 L635.3,341.3 L636.8,342.7 L638.2,344.1 L639.7,345.5 L641.1,346.8 L642.6,348.2 L644.0,349.6 L645.5,351.0 L646.9,352.4 L648.4,353.8 L649.8,355.1 L651.3,356.5 L652.7,357.9 L654.2,359.3 L655.6,360.7 L657.1,362.0 L658.5,363.4 L659.9,364.8 L661.4,366.2 L662.8,367.6 L664.3,369.0 L665.7,370.3 L667.2,371.7 L668.6,373.1 L670.1,374.5 L671.5,375.9 L673.0,377.3 L674.4,378.6 L675.9,380.0 L677.3,381.4 L678.8,382.8 L680.2,384.2 L681.6,385.6 L683.1,386.9 L684.5,388.3 L686.0,389.7 L687.4,391.1 L688.9,392.5 L690.3,393.9 L691.8,395.3 L693.2,396.6 L694.7,398.0 L696.1,399.4 L697.5,400.8 L699.0,402.2 L700.4,403.6 L701.9,404.9 L703.3,406.3 L704.8,407.7 L706.2,409.1 L707.7,410.5 L709.1,411.9 L710.5,413.3 L712.0,414.6 L713.4,416.0 L714.9,417.4 L716.3,418.8 L717.8,420.2 L719.2,421.6 L720.7,423.0 L722.1,424.3 L723.5,425.7 L725.0,427.1 L726.4,428.5 L727.9,429.9 L729.3,431.3 L730.8,432.7 L732.2,434.0 L733.6,435.4 L735.1,436.8 L736.5,438.2 L738.0,439.6 L739.4,441.0 L740.9,442.4 L742.3,443.8 L743.7,445.1 L745.2,446.5 L746.6,447.9 L748.1,449.3 L749.5,450.7 L751.0,452.1 L752.4,453.5 L753.8,454.9 L755.3,456.3 L756.7,457.6 L758.2,459.0 L759.6,460.4 L761.0,461.8 L762.5,463.2 L763.9,464.6 L765.4,466.0 L766.8,467.4 L768.2,468.8 L769.7,470.2 L771.1,471.6 L772.6,472.9 L774.0,474.3 L775.4,475.7 L776.9,477.1 L778.3,478.5 L779.7,479.9 L781.2,481.3 L782.6,482.7 L784.1,484.1 L785.5,485.4 L787.0,486.8 L788.4,488.2 L789.9,489.6 L791.3,491.0 L792.8,492.3 L794.3,493.7 L795.7,495.0 L797.2,496.4 L798.7,497.7 L800.2,499.1 L801.7,500.4 L803.2,501.7 L804.7,503.1 L806.2,504.4 L807.7,505.7 L809.2,506.9 L810.8,508.2 L812.3,509.5 L813.9,510.7 L815.5,512.0 L817.0,513.2 L818.6,514.4 L820.2,515.6 L821.8,516.8 L823.5,518.0 L825.1,519.2 L826.7,520.3 L828.4,521.4 L830.1,522.5 L831.7,523.6 L833.4,524.7 L835.1,525.8 L836.8,526.8 L838.6,527.8 L840.3,528.8 L842.1,529.7 L843.8,530.7 L845.6,531.6 L847.4,532.5 L849.2,533.4 L851.0,534.2 L852.9,535.0 L854.7,535.8 L856.5,536.6 L858.4,537.3 L860.3,538.0 L862.1,538.7 L864.0,539.4 L865.9,540.1 L867.8,540.7 L869.7,541.3 L871.6,542.0 L873.5,542.6 L875.4,543.1 L877.4,543.7 L879.3,544.3 L881.2,544.8 L883.1,545.4 L885.0,545.9 L887.0,546.5 L888.9,547.0 L890.8,547.5 L892.8,548.0 L894.7,548.5 L896.6,549.1 L898.6,549.6 L900.5,550.1 L902.4,550.6 L904.4,551.1 L906.3,551.6 L908.2,552.1 L910.2,552.7 L912.1,553.2 L914.0,553.8 L916.0,554.3 L917.9,554.9 L919.8,555.4 L921.7,556.0 L923.6,556.6 L925.5,557.2 L927.4,557.8 L929.3,558.4 L931.2,559.1 L933.1,559.7 L935.0,560.4 L936.9,561.0 L938.8,561.7 L940.7,562.4 L942.6,563.1 L944.4,563.8 L946.3,564.5 L948.2,565.2 L950.0,566.0 L951.9,566.7 L953.7,567.5 L955.6,568.2 L957.4,569.0 L959.3,569.7 L961.1,570.5 L963.0,571.3 L964.8,572.1 L966.7,572.9 L968.5,573.7 L970.3,574.5 L972.2,575.3 L974.0,576.1 L975.8,576.9 L977.7,577.7 L979.5,578.5 L981.3,579.4 L983.1,580.2 L984.9,581.0 L986.8,581.9 L988.6,582.7 L990.4,583.5 L992.2,584.4 L994.0,585.2 L995.8,586.1 L997.6,587.0 L999.4,587.8 L1001.2,588.7 L1003.0,589.6 L1004.8,590.4 L1006.7,591.3 L1008.4,592.2 L1010.2,593.1 L1012.0,593.9 L1013.8,594.8 L1015.6,595.7 L1017.4,596.6 L1019.2,597.5 L1021.0,598.4 L1022.8,599.3 L1024.6,600.2 L1026.4,601.1 L1028.2,602.0 L1029.9,602.9 L1031.7,603.8 L1033.5,604.7 L1035.3,605.6 L1037.1,606.5 L1038.9,607.4 L1040.6,608.4 L1042.4,609.3 L1044.2,610.2 L1046.0,611.1 L1047.8,612.0 L1049.5,612.9 L1051.3,613.9 L1053.1,614.8 L1054.9,615.7 L1056.6,616.6 L1058.4,617.5 L1060.2,618.5 L1062.0,619.4 L1063.8,620.3 L1065.5,621.2 L1067.3,622.1 L1069.1,623.1 L1070.9,624.0 L1072.6,624.9 L1074.4,625.8 L1076.2,626.8 L1078.0,627.7 L1079.7,628.6 L1081.5,629.5 L1083.3,630.4 L1085.1,631.4 L1086.9,632.3 L1088.6,633.2 L1090.4,634.1 L1092.2,635.0 L1094.0,635.9 L1095.8,636.8 L1097.5,637.8 L1099.3,638.7 L1101.1,639.6 L1102.9,640.5 L1104.7,641.4 L1106.5,642.3 L1108.3,643.2 L1110.0,644.1 L1111.8,645.0 L1113.6,645.9 L1115.4,646.8 L1117.2,647.7 L1119.0,648.5 L1120.8,649.4 L1122.6,650.3 L1124.4,651.2 L1126.2,652.1 L1128.0,653.0 L1129.8,653.8 L1131.6,654.7 L1133.4,655.6 L1135.2,656.5 L1137.0,657.3 L1138.8,658.2 L1140.6,659.1 L1142.4,659.9 L1144.2,660.8 L1146.0,661.7 L1147.8,662.5 L1149.6,663.4 L1151.4,664.3 L1153.2,665.1 L1155.0,666.0 L1156.8,666.9 L1158.6,667.7 L1160.4,668.6 L1162.2,669.4 L1164.1,670.3 L1165.9,671.2 L1167.7,672.0 L1169.5,672.9 L1171.3,673.8 L1173.1,674.6 L1174.9,675.5 L1176.7,676.3 L1178.5,677.2 L1180.3,678.1 L1182.1,678.9 L1183.9,679.8 L1185.7,680.7 L1187.5,681.5 L1189.3,682.4 L1191.1,683.3 L1192.9,684.1 L1194.7,685.0 L1196.5,685.9 L1198.4,686.7 L1200.2,687.6 L1202.0,688.5 L1203.8,689.4 L1205.6,690.2 L1207.3,691.1 L1209.1,692.0 L1210.9,692.9 L1212.7,693.8 L1214.5,694.6 L1216.3,695.5 L1218.1,696.4 L1219.9,697.3 L1221.7,698.2 L1223.5,699.1 L1225.3,700.0 L1227.1,700.9 L1228.9,701.8 L1230.6,702.7 L1232.4,703.6 L1234.2,704.5 L1236.0,705.4 L1237.8,706.4 L1239.5,707.3 L1241.3,708.2 L1243.1,709.1 L1244.9,710.1 L1246.6,711.0 L1248.4,711.9 L1250.2,712.9 L1251.9,713.8 L1253.7,714.7 L1255.5,715.7 L1257.2,716.6 L1259.0,717.6 L1260.7,718.6 L1262.5,719.5 L1264.3,720.5 L1266.0,721.5 L1267.8,722.4 L1269.5,723.4 L1271.2,724.4 L1273.0,725.4 L1274.7,726.4 L1276.5,727.4 L1278.2,728.4 L1279.9,729.4 L1281.6,730.4 L1283.4,731.4 L1285.1,732.4 L1286.8,733.4 L1288.5,734.5 L1290.2,735.5 L1292.0,736.5 L1293.7,737.6 L1295.4,738.6 L1297.1,739.7 L1298.8,740.7 L1300.5,741.8 L1302.2,742.9 L1303.9,744.0 L1305.5,745.0 L1307.2,746.1 L1308.9,747.2 L1310.6,748.3 L1312.2,749.4 L1313.9,750.5 L1315.6,751.6 L1317.2,752.7 L1318.9,753.9 L1320.6,755.0 L1322.2,756.1 L1323.9,757.2 L1325.5,758.4 L1327.1,759.5 L1328.8,760.7 L1330.4,761.8 L1332.1,763.0 L1333.7,764.1 L1335.3,765.3 L1336.9,766.5 L1338.6,767.6 L1340.2,768.8 L1341.8,770.0 L1343.4,771.2 L1345.0,772.3 L1346.7,773.5 L1348.3,774.7 L1349.9,775.9 L1351.5,777.1 L1353.1,778.3 L1354.7,779.5 L1356.3,780.7 L1357.9,781.9 L1359.5,783.1 L1361.1,784.3 L1362.7,785.5 L1364.3,786.7 L1365.9,788.0 L1367.4,789.2 L1369.0,790.4 L1370.6,791.6 L1372.2,792.8 L1373.8,794.1 L1375.4,795.3 L1377.0,796.5 L1378.5,797.7 L1380.1,799.0 L1381.7,800.2 L1383.3,801.4 L1384.9,802.6 L1386.4,803.9 L1388.0,805.1 L1389.6,806.3 L1391.2,807.6 L1392.7,808.8 L1394.3,810.0 L1395.9,811.3 L1397.5,812.5 L1399.0,813.7 L1400.6,815.0 L1402.2,816.2 L1403.8,817.4 L1405.3,818.7 L1406.9,819.9 L1408.5,821.2 L1410.1,822.4 L1411.6,823.6 L1413.2,824.9 L1414.8,826.1 L1416.4,827.3 L1417.9,828.6 L1419.5,829.8 L1421.1,831.0 L1422.7,832.3 L1424.2,833.5 L1425.8,834.8 L1427.4,836.0 L1428.9,837.3 L1430.5,838.5 L1432.1,839.8 L1433.6,841.0 L1435.2,842.3 L1436.7,843.5 L1438.3,844.8 L1439.9,846.0 L1441.4,847.3 L1443.0,848.5 L1444.5,849.8 L1446.1,851.1 L1447.6,852.3 L1449.2,853.6 L1450.7,854.9 L1452.3,856.1 L1453.8,857.4 L1455.4,858.7 L1456.9,860.0 L1458.4,861.3 L1460.0,862.5 L1461.5,863.8 L1463.0,865.1 L1464.6,866.4 L1466.1,867.7 L1467.6,869.0 L1469.1,870.3 L1470.6,871.6 L1472.1,872.9 L1473.7,874.2 L1475.2,875.6 L1476.7,876.9 L1478.2,878.2 L1479.7,879.5 L1481.2,880.9 L1482.7,882.2 L1484.1,883.5 L1485.6,884.9 L1487.1,886.2 L1488.6,887.6 L1490.1,888.9 L1491.5,890.3 L1493.0,891.7 L1494.5,893.0 L1495.9,894.4 L1497.4,895.8 L1498.8,897.2 L1500.3,898.5 L1501.7,899.9 L1503.1,901.3 L1504.6,902.7 L1506.0,904.1 L1507.4,905.5 L1508.8,906.9 L1510.2,908.4 L1511.7,909.8 L1513.1,911.2 L1514.5,912.6 L1515.9,914.1 L1517.3,915.5 L1518.6,916.9 L1520.0,918.4 L1521.4,919.8 L1522.8,921.3 L1524.2,922.7 L1525.5,924.2 L1526.9,925.7 L1528.3,927.1 L1529.6,928.6 L1531.0,930.1 L1532.4,931.5 L1533.7,933.0 L1535.1,934.5 L1536.4,936.0 L1537.7,937.4 L1539.1,938.9 L1540.4,940.4 L1541.8,941.9 L1543.1,943.4 L1544.4,944.9 L1545.8,946.4 L1547.1,947.9 L1548.4,949.4 L1549.7,950.9 L1551.0,952.4 L1552.4,953.9 L1553.7,955.4 L1555.0,956.9 L1556.3,958.4 L1557.6,960.0 L1558.9,961.5 L1560.2,963.0 L1561.5,964.5 L1562.8,966.0 L1564.1,967.5 L1565.4,969.1 L1566.7,970.6 L1568.0,972.1 L1569.3,973.6 L1570.6,975.1 L1571.9,976.7 L1573.2,978.2 L1574.5,979.7 L1575.8,981.2 L1577.1,982.8 L1578.4,984.3 L1579.7,985.8 L1581.0,987.4 L1582.3,988.9 L1583.6,990.4 L1584.9,991.9 L1586.2,993.5 L1587.5,995.0 L1588.8,996.5 L1590.1,998.0 L1591.4,999.6 L1592.7,1001.1 L1593.9,1002.6 L1595.2,1004.1 L1596.5,1005.7 L1597.8,1007.2 L1599.1,1008.7 L1600.4,1010.2 L1601.7,1011.8 L1603.0,1013.3 L1604.3,1014.8 L1605.6,1016.3 L1607.0,1017.8 L1608.3,1019.3 L1609.6,1020.9 L1610.9,1022.4 L1612.2,1023.9 L1613.5,1025.4 L1614.8,1026.9 L1616.1,1028.4 L1617.5,1029.9 L1618.8,1031.4 L1620.1,1032.9 L1621.4,1034.4 L1622.8,1035.9 L1624.1,1037.4 L1625.4,1038.9 L1626.8,1040.4 L1628.1,1041.9 L1629.4,1043.4 L1630.8,1044.9 L1632.1,1046.3 L1633.5,1047.8 L1634.8,1049.3 L1636.2,1050.8 L1637.5,1052.2 L1638.9,1053.7 L1640.3,1055.2 L1641.6,1056.6 L1643.0,1058.1 L1644.4,1059.5 L1645.8,1061.0 L1647.1,1062.4 L1648.5,1063.9 L1649.9,1065.3 L1651.3,1066.8 L1652.7,1068.2 L1654.1,1069.6 L1655.5,1071.0 L1656.9,1072.5 L1658.3,1073.9 L1659.8,1075.3 L1661.2,1076.7 L1662.6,1078.1 L1664.0,1079.5 L1665.5,1080.9 L1666.9,1082.3 L1668.4,1083.7 L1669.8,1085.1 L1671.3,1086.4 L1672.7,1087.8 L1674.2,1089.2 L1675.6,1090.5 L1677.1,1091.9 L1678.6,1093.2 L1680.1,1094.6 L1681.5,1095.9 L1683.0,1097.3 L1684.5,1098.6 L1686.0,1099.9 L1687.5,1101.3 L1689.0,1102.6 L1690.5,1103.9 L1692.0,1105.2 L1693.6,1106.5 L1695.1,1107.8 L1696.6,1109.1 L1698.2,1110.4 L1699.7,1111.7 L1701.2,1113.0 L1702.8,1114.2 L1704.3,1115.5 L1705.9,1116.8 L1707.4,1118.0 L1709.0,1119.3 L1710.6,1120.5 L1712.1,1121.7 L1713.7,1123.0 L1715.3,1124.2 L1716.9,1125.4 L1718.5,1126.6 L1720.1,1127.8 L1721.7,1129.0 L1723.3,1130.2 L1724.9,1131.4 L1726.5,1132.6 L1728.1,1133.8 L1729.8,1134.9 L1731.4,1136.1 L1733.0,1137.3 L1734.7,1138.4 L1736.3,1139.5 L1738.0,1140.7 L1739.6,1141.8 L1741.3,1142.9 L1742.9,1144.0 L1744.6,1145.2 L1746.3,1146.3 L1747.9,1147.4 L1749.6,1148.4 L1751.3,1149.5 L1753.0,1150.6 L1754.7,1151.7 L1756.4,1152.7 L1758.1,1153.8 L1759.8,1154.8 L1761.5,1155.8 L1763.2,1156.9 L1765.0,1157.9 L1766.7,1158.9 L1768.4,1159.9 L1770.1,1160.9 L1771.9,1161.9 L1773.6,1162.9 L1775.4,1163.9 L1777.1,1164.8 L1778.9,1165.8 L1780.6,1166.8 L1782.4,1167.7 L1784.2,1168.7 L1785.9,1169.6 L1787.7,1170.5 L1789.5,1171.5 L1791.2,1172.4 L1793.0,1173.3 L1794.8,1174.2 L1796.6,1175.1 L1798.4,1176.0 L1800.2,1176.9 L1801.9,1177.8 L1803.7,1178.7 L1805.5,1179.6 L1807.3,1180.5 L1809.1,1181.4 L1810.9,1182.2 L1812.7,1183.1 L1814.5,1184.0 L1816.3,1184.8 L1818.2,1185.7 L1820.0,1186.5 L1821.8,1187.4 L1823.6,1188.2 L1825.4,1189.1 L1827.2,1189.9 L1829.0,1190.8 L1830.9,1191.6 L1832.7,1192.4 L1834.5,1193.3 L1836.3,1194.1 L1838.1,1194.9 L1840.0,1195.8 L1841.8,1196.6 L1843.6,1197.4 L1845.4,1198.2 L1847.3,1199.1 L1849.1,1199.9 L1850.9,1200.7 L1852.7,1201.5 L1854.6,1202.3 L1856.4,1203.1 L1858.2,1204.0 L1860.0,1204.8 L1861.9,1205.6 L1863.7,1206.4 L1865.5,1207.2 L1867.4,1208.0 L1869.2,1208.8 L1871.0,1209.7 L1872.8,1210.5 L1874.7,1211.3 L1876.5,1212.1 L1878.3,1212.9 L1880.2,1213.7 L1882.0,1214.5 L1883.8,1215.3 L1885.7,1216.1 L1887.5,1216.9 L1889.3,1217.7 L1891.2,1218.5 L1893.0,1219.3 L1894.8,1220.1 L1896.7,1220.9 L1898.5,1221.7 L1900.3,1222.5 L1902.2,1223.3 L1904.0,1224.1 L1905.8,1224.9 L1907.7,1225.7 L1909.5,1226.5 L1911.4,1227.3 L1913.2,1228.1 L1915.0,1228.9 L1916.9,1229.7 L1918.7,1230.5 L1920.5,1231.3 L1922.4,1232.1 L1924.2,1232.8 L1926.1,1233.6 L1927.9,1234.4 L1929.7,1235.2 L1931.6,1236.0 L1933.4,1236.8 L1935.3,1237.6 L1937.1,1238.4 L1938.9,1239.1 L1940.8,1239.9 L1942.6,1240.7 L1944.5,1241.5 L1946.3,1242.3 L1948.2,1243.0 L1950.0,1243.8 L1951.8,1244.6 L1953.7,1245.4 L1955.5,1246.2 L1957.4,1246.9 L1959.2,1247.7 L1961.1,1248.5 L1962.9,1249.3 L1964.8,1250.0 L1966.6,1250.8 L1968.5,1251.6 L1970.3,1252.4 L1972.1,1253.1 L1974.0,1253.9 L1975.8,1254.7 L1977.7,1255.4 L1979.5,1256.2 L1981.4,1257.0 L1983.2,1257.7 L1985.1,1258.5 L1986.9,1259.3 L1988.8,1260.0 L1990.6,1260.8 L1992.5,1261.6 L1994.3,1262.3 L1996.2,1263.1 L1998.0,1263.9 L1999.9,1264.6 L2001.7,1265.4 L2003.6,1266.1 L2005.4,1266.9 L2007.3,1267.7 L2009.1,1268.4 L2011.0,1269.2 L2012.8,1269.9 L2014.7,1270.7 L2016.5,1271.5 L2018.4,1272.2 L2020.3,1273.0 L2022.1,1273.7 L2024.0,1274.5 L2025.8,1275.2 L2027.7,1276.0 L2029.5,1276.7 L2031.4,1277.5 L2033.2,1278.2 L2035.1,1279.0 L2036.9,1279.7 L2038.8,1280.5 L2040.7,1281.2 L2042.5,1282.0 L2044.4,1282.7 L2046.2,1283.5 L2048.1,1284.2 L2049.9,1285.0 L2051.8,1285.7 L2053.7,1286.5 L2055.5,1287.2 L2057.4,1287.9 L2059.2,1288.7 L2061.1,1289.4 L2063.0,1290.2 L2064.8,1290.9 L2066.7,1291.7 L2068.5,1292.4 L2070.4,1293.1 L2072.3,1293.9 L2074.1,1294.6 L2076.0,1295.3 L2077.8,1296.1 L2079.7,1296.8 L2081.6,1297.6 L2083.4,1298.3 L2085.3,1299.0 L2087.1,1299.8 L2089.0,1300.5" fill="none" stroke="#FF0000" stroke-width="9.0" stroke-linecap="round" stroke-linejoin="round" stroke-dasharray="17 16.4"/>
<rect width="2191" height="1359" fill="#00B050" mask="url(#m_gi)"/>
<path d="M444.9,158.2 L446.8,158.7 L448.8,159.3 L450.7,159.8 L452.6,160.4 L454.5,160.9 L456.5,161.5 L458.4,162.0 L460.3,162.6 L462.2,163.1 L464.2,163.7 L466.1,164.2 L468.0,164.8 L469.9,165.4 L471.8,165.9 L473.8,166.5 L475.7,167.1 L477.6,167.6 L479.5,168.2 L481.4,168.8 L483.3,169.4 L485.3,169.9 L487.2,170.5 L489.1,171.1 L491.0,171.7 L492.9,172.3 L494.8,172.9 L496.7,173.4 L498.7,174.0 L500.6,174.6 L502.5,175.2 L504.4,175.8 L506.3,176.4 L508.2,177.0 L510.1,177.6 L512.0,178.2 L513.9,178.8 L515.9,179.4 L517.8,180.0 L519.7,180.6 L521.6,181.2 L523.5,181.8 L525.4,182.4 L527.3,183.0 L529.2,183.7 L531.1,184.3 L533.0,184.9 L534.9,185.5 L536.8,186.1 L538.7,186.7 L540.6,187.3 L542.5,187.9 L544.5,188.6 L546.4,189.2 L548.3,189.8 L550.2,190.4 L552.1,191.0 L554.0,191.6 L555.9,192.3 L557.8,192.9 L559.7,193.5 L561.6,194.1 L563.5,194.7 L565.4,195.4 L567.3,196.0 L569.2,196.6 L571.1,197.2 L573.0,197.8 L574.9,198.5 L576.8,199.1 L578.7,199.7 L580.6,200.3 L582.5,201.0 L584.4,201.6 L586.3,202.2 L588.2,202.8 L590.1,203.4 L592.0,204.1 L593.9,204.7 L595.8,205.3 L597.7,205.9 L599.6,206.5 L601.5,207.2 L603.5,207.8 L605.4,208.4 L607.3,209.0 L609.2,209.6 L611.1,210.3 L613.0,210.9 L614.9,211.5 L616.8,212.1 L618.7,212.7 L620.6,213.3 L622.5,214.0 L624.4,214.6 L626.3,215.2 L628.2,215.8 L630.1,216.4 L632.0,217.0 L633.9,217.6 L635.8,218.2 L637.7,218.8 L639.7,219.4 L641.6,220.1 L643.5,220.7 L645.4,221.3 L647.3,221.9 L649.2,222.5 L651.1,223.1 L653.0,223.7 L654.9,224.3 L656.8,224.9 L658.7,225.4 L660.7,226.0 L662.6,226.6 L664.5,227.2 L666.4,227.8 L668.3,228.4 L670.2,229.0 L672.1,229.6 L674.1,230.2 L676.0,230.7 L677.9,231.3 L679.8,231.9 L681.7,232.5 L683.6,233.0 L685.6,233.6 L687.5,234.2 L689.4,234.8 L691.3,235.3 L693.2,235.9 L695.2,236.4 L697.1,237.0 L699.0,237.6 L700.9,238.1 L702.8,238.7 L704.8,239.2 L706.7,239.8 L708.6,240.3 L710.5,240.9 L712.5,241.4 L714.4,242.0 L716.3,242.5 L718.3,243.0 L720.2,243.6 L722.1,244.1 L724.0,244.6 L726.0,245.1 L727.9,245.7 L729.8,246.2 L731.8,246.7 L733.7,247.2 L735.6,247.7 L737.6,248.2 L739.5,248.7 L741.5,249.2 L743.4,249.8 L745.3,250.2 L747.3,250.7 L749.2,251.2 L751.2,251.7 L753.1,252.2 L755.0,252.7 L757.0,253.2 L758.9,253.6 L760.9,254.1 L762.8,254.6 L764.8,255.1 L766.7,255.5 L768.7,256.0 L770.6,256.4 L772.6,256.9 L774.5,257.3 L776.5,257.8 L778.4,258.2 L780.4,258.7 L782.3,259.1 L784.3,259.5 L786.2,260.0 L788.2,260.4 L790.1,260.8 L792.1,261.2 L794.1,261.6 L796.0,262.0 L798.0,262.4 L799.9,262.8 L801.9,263.2 L803.9,263.6 L805.8,264.0 L807.8,264.4 L809.8,264.8 L811.7,265.1 L813.7,265.5 L815.7,265.9 L817.6,266.2 L819.6,266.6 L821.6,267.0 L823.5,267.3 L825.5,267.6 L827.5,268.0 L829.5,268.3 L831.4,268.6 L833.4,269.0 L835.4,269.3 L837.4,269.6 L839.3,269.9 L841.3,270.2 L843.3,270.5 L845.3,270.7 L847.3,270.9 L849.3,271.1 L851.3,271.2 L853.3,271.3 L855.3,271.4 L857.3,271.3 L859.3,271.2 L861.3,271.1 L863.3,270.8 L865.2,270.5 L867.2,270.1 L869.1,269.6 L871.0,269.0 L872.9,268.3 L874.7,267.5 L876.5,266.6 L878.3,265.6 L880.0,264.5 L881.6,263.4 L883.2,262.2 L884.7,260.9 L886.3,259.6 L887.8,258.3 L889.3,257.0 L890.9,255.8 L892.5,254.5 L894.1,253.3 L895.7,252.2 L897.5,251.2 L899.3,250.4 L901.1,249.6 L903.1,249.1 L905.0,248.7 L907.0,248.4 L909.0,248.2 L911.0,248.2 L913.0,248.2 L915.0,248.2 L917.0,248.3 L919.0,248.4 L921.0,248.4 L923.0,248.6 L925.0,248.7 L927.0,248.8 L929.0,248.9 L931.0,249.1 L933.0,249.3 L935.0,249.4 L937.0,249.6 L939.0,249.8 L941.0,250.0 L942.9,250.2 L944.9,250.5 L946.9,250.7 L948.9,250.9 L950.9,251.2 L952.9,251.5 L954.9,251.7 L956.8,252.0 L958.8,252.3 L960.8,252.6 L962.8,252.9 L964.8,253.2 L966.7,253.6 L968.7,253.9 L970.7,254.2 L972.6,254.6 L974.6,254.9 L976.6,255.3 L978.5,255.7 L980.5,256.1 L982.5,256.5 L984.4,256.9 L986.4,257.3 L988.4,257.7 L990.3,258.1 L992.3,258.5 L994.2,258.9 L996.2,259.4 L998.1,259.8 L1000.1,260.3 L1002.0,260.7 L1004.0,261.2 L1005.9,261.7 L1007.9,262.1 L1009.8,262.6 L1011.8,263.1 L1013.7,263.6 L1015.6,264.1 L1017.6,264.6 L1019.5,265.1 L1021.4,265.6 L1023.4,266.1 L1025.3,266.6 L1027.2,267.2 L1029.2,267.7 L1031.1,268.2 L1033.0,268.7 L1035.0,269.3 L1036.9,269.8 L1038.8,270.4 L1040.7,270.9 L1042.7,271.5 L1044.6,272.0 L1046.5,272.6 L1048.4,273.1 L1050.4,273.7 L1052.3,274.3 L1054.2,274.8 L1056.1,275.4 L1058.0,276.0 L1059.9,276.6 L1061.9,277.1 L1063.8,277.7 L1065.7,278.3 L1067.6,278.9 L1069.5,279.5 L1071.4,280.1 L1073.3,280.7 L1075.3,281.3 L1077.2,281.9 L1079.1,282.5 L1081.0,283.1 L1082.9,283.7 L1084.8,284.3 L1086.7,284.9 L1088.6,285.5 L1090.5,286.2 L1092.4,286.8 L1094.3,287.4 L1096.2,288.0 L1098.1,288.7 L1100.0,289.3 L1101.9,289.9 L1103.8,290.6 L1105.7,291.2 L1107.6,291.9 L1109.5,292.5 L1111.4,293.2 L1113.3,293.8 L1115.2,294.5 L1117.0,295.2 L1118.9,295.8 L1120.8,296.5 L1122.7,297.2 L1124.6,297.9 L1126.5,298.5 L1128.3,299.2 L1130.2,299.9 L1132.1,300.6 L1134.0,301.3 L1135.9,302.0 L1137.7,302.7 L1139.6,303.4 L1141.5,304.1 L1143.4,304.8 L1145.2,305.5 L1147.1,306.2 L1149.0,307.0 L1150.8,307.7 L1152.7,308.4 L1154.5,309.2 L1156.4,309.9 L1158.3,310.6 L1160.1,311.4 L1162.0,312.1 L1163.8,312.9 L1165.7,313.6 L1167.5,314.4 L1169.4,315.1 L1171.2,315.9 L1173.1,316.7 L1174.9,317.5 L1176.8,318.2 L1178.6,319.0 L1180.5,319.8 L1182.3,320.6 L1184.1,321.4 L1186.0,322.2 L1187.8,323.0 L1189.6,323.8 L1191.5,324.6 L1193.3,325.5 L1195.1,326.3 L1196.9,327.1 L1198.8,327.9 L1200.6,328.8 L1202.4,329.6 L1204.2,330.5 L1206.0,331.3 L1207.8,332.2 L1209.6,333.1 L1211.4,333.9 L1213.2,334.8 L1215.0,335.7 L1216.8,336.6 L1218.6,337.5 L1220.4,338.4 L1222.2,339.3 L1223.9,340.2 L1225.7,341.1 L1227.5,342.1 L1229.3,343.0 L1231.0,343.9 L1232.8,344.9 L1234.6,345.8 L1236.3,346.8 L1238.1,347.7 L1239.8,348.7 L1241.6,349.7 L1243.3,350.7 L1245.1,351.7 L1246.8,352.7 L1248.5,353.7 L1250.3,354.7 L1252.0,355.7 L1253.7,356.7 L1255.4,357.7 L1257.1,358.8 L1258.8,359.8 L1260.5,360.9 L1262.2,361.9 L1263.9,363.0 L1265.6,364.1 L1267.3,365.2 L1269.0,366.3 L1270.6,367.4 L1272.3,368.5 L1274.0,369.6 L1275.6,370.7 L1277.3,371.8 L1278.9,373.0 L1280.6,374.1 L1282.2,375.3 L1283.8,376.4 L1285.5,377.6 L1287.1,378.8 L1288.7,379.9 L1290.3,381.1 L1291.9,382.3 L1293.5,383.5 L1295.1,384.7 L1296.7,385.9 L1298.3,387.2 L1299.9,388.4 L1301.5,389.6 L1303.0,390.9 L1304.6,392.1 L1306.2,393.4 L1307.7,394.6 L1309.3,395.9 L1310.8,397.2 L1312.4,398.4 L1313.9,399.7 L1315.4,401.0 L1317.0,402.3 L1318.5,403.6 L1320.0,404.9 L1321.5,406.2 L1323.0,407.5 L1324.6,408.8 L1326.1,410.1 L1327.6,411.5 L1329.0,412.8 L1330.5,414.1 L1332.0,415.5 L1333.5,416.8 L1335.0,418.2 L1336.5,419.5 L1337.9,420.9 L1339.4,422.3 L1340.9,423.6 L1342.3,425.0 L1343.8,426.4 L1345.2,427.7 L1346.7,429.1 L1348.1,430.5 L1349.6,431.9 L1351.0,433.3 L1352.4,434.7 L1353.9,436.1 L1355.3,437.5 L1356.7,438.9 L1358.1,440.3 L1359.5,441.7 L1361.0,443.1 L1362.4,444.6 L1363.8,446.0 L1365.2,447.4 L1366.6,448.8 L1368.0,450.3 L1369.4,451.7 L1370.8,453.2 L1372.2,454.6 L1373.5,456.0 L1374.9,457.5 L1376.3,458.9 L1377.7,460.4 L1379.1,461.8 L1380.4,463.3 L1381.8,464.7 L1383.2,466.2 L1384.5,467.7 L1385.9,469.1 L1387.3,470.6 L1388.6,472.1 L1390.0,473.5 L1391.4,475.0 L1392.7,476.5 L1394.1,477.9 L1395.4,479.4 L1396.8,480.9 L1398.1,482.4 L1399.5,483.9 L1400.8,485.3 L1402.2,486.8 L1403.5,488.3 L1404.8,489.8 L1406.2,491.3 L1407.5,492.8 L1408.8,494.3 L1410.2,495.8 L1411.5,497.3 L1412.8,498.8 L1414.2,500.3 L1415.5,501.8 L1416.8,503.3 L1418.1,504.8 L1419.5,506.3 L1420.8,507.8 L1422.1,509.3 L1423.4,510.8 L1424.7,512.3 L1426.0,513.8 L1427.3,515.3 L1428.6,516.9 L1429.9,518.4 L1431.2,519.9 L1432.5,521.4 L1433.8,522.9 L1435.1,524.5 L1436.4,526.0 L1437.7,527.5 L1439.0,529.1 L1440.3,530.6 L1441.5,532.1 L1442.8,533.7 L1444.1,535.2 L1445.4,536.8 L1446.6,538.3 L1447.9,539.9 L1449.2,541.4 L1450.4,543.0 L1451.7,544.5 L1453.0,546.1 L1454.2,547.6 L1455.5,549.2 L1456.7,550.8 L1458.0,552.3 L1459.2,553.9 L1460.5,555.5 L1461.7,557.0 L1462.9,558.6 L1464.2,560.2 L1465.4,561.8 L1466.6,563.4 L1467.8,564.9 L1469.1,566.5 L1470.3,568.1 L1471.5,569.7 L1472.7,571.3 L1473.9,572.9 L1475.1,574.5 L1476.3,576.1 L1477.5,577.7 L1478.7,579.3 L1479.9,580.9 L1481.1,582.5 L1482.3,584.1 L1483.5,585.7 L1484.6,587.4 L1485.8,589.0 L1487.0,590.6 L1488.2,592.2 L1489.3,593.9 L1490.5,595.5 L1491.7,597.1 L1492.8,598.8 L1494.0,600.4 L1495.1,602.0 L1496.2,603.7 L1497.4,605.3 L1498.5,607.0 L1499.7,608.6 L1500.8,610.3 L1501.9,611.9 L1503.0,613.6 L1504.1,615.2 L1505.3,616.9 L1506.4,618.6 L1507.5,620.2 L1508.6,621.9 L1509.7,623.6 L1510.8,625.3 L1511.9,626.9 L1512.9,628.6 L1514.0,630.3 L1515.1,632.0 L1516.2,633.7 L1517.2,635.4 L1518.3,637.1 L1519.4,638.8 L1520.4,640.5 L1521.5,642.2 L1522.5,643.9 L1523.6,645.6 L1524.6,647.3 L1525.6,649.0 L1526.7,650.7 L1527.7,652.4 L1528.7,654.2 L1529.7,655.9 L1530.8,657.6 L1531.8,659.3 L1532.8,661.1 L1533.8,662.8 L1534.8,664.5 L1535.8,666.3 L1536.8,668.0 L1537.8,669.7 L1538.8,671.5 L1539.7,673.2 L1540.7,675.0 L1541.7,676.7 L1542.7,678.5 L1543.6,680.2 L1544.6,682.0 L1545.6,683.7 L1546.5,685.5 L1547.5,687.2 L1548.5,689.0 L1549.4,690.8 L1550.4,692.5 L1551.3,694.3 L1552.2,696.1 L1553.2,697.8 L1554.1,699.6 L1555.1,701.4 L1556.0,703.1 L1556.9,704.9 L1557.9,706.7 L1558.8,708.4 L1559.7,710.2 L1560.6,712.0 L1561.6,713.8 L1562.5,715.5 L1563.4,717.3 L1564.3,719.1 L1565.2,720.9 L1566.1,722.7 L1567.1,724.4 L1568.0,726.2 L1568.9,728.0 L1569.8,729.8 L1570.7,731.6 L1571.6,733.4 L1572.5,735.2 L1573.4,736.9 L1574.3,738.7 L1575.2,740.5 L1576.1,742.3 L1577.0,744.1 L1577.9,745.9 L1578.8,747.7 L1579.7,749.5 L1580.6,751.3 L1581.4,753.1 L1582.3,754.9 L1583.2,756.7 L1584.1,758.4 L1585.0,760.2 L1585.9,762.0 L1586.8,763.8 L1587.7,765.6 L1588.5,767.4 L1589.4,769.2 L1590.3,771.0 L1591.2,772.8 L1592.1,774.6 L1593.0,776.4 L1593.8,778.2 L1594.7,780.0 L1595.6,781.8 L1596.5,783.6 L1597.4,785.4 L1598.3,787.2 L1599.2,789.0 L1600.0,790.8 L1600.9,792.6 L1601.8,794.4 L1602.7,796.1 L1603.6,797.9 L1604.5,799.7 L1605.4,801.5 L1606.3,803.3 L1607.1,805.1 L1608.0,806.9 L1608.9,808.7 L1609.8,810.5 L1610.7,812.3 L1611.6,814.1 L1612.5,815.9 L1613.4,817.7 L1614.3,819.4 L1615.2,821.2 L1616.1,823.0 L1617.0,824.8 L1617.9,826.6 L1618.8,828.4 L1619.7,830.2 L1620.6,831.9 L1621.5,833.7 L1622.4,835.5 L1623.4,837.3 L1624.3,839.1 L1625.2,840.9 L1626.1,842.6 L1627.0,844.4 L1627.9,846.2 L1628.9,848.0 L1629.8,849.7 L1630.7,851.5 L1631.7,853.3 L1632.6,855.0 L1633.5,856.8 L1634.5,858.6 L1635.4,860.4 L1636.4,862.1 L1637.3,863.9 L1638.2,865.6 L1639.2,867.4 L1640.2,869.2 L1641.1,870.9 L1642.1,872.7 L1643.0,874.4 L1644.0,876.2 L1645.0,877.9 L1645.9,879.7 L1646.9,881.4 L1647.9,883.2 L1648.9,884.9 L1649.9,886.7 L1650.9,888.4 L1651.8,890.1 L1652.8,891.9 L1653.8,893.6 L1654.8,895.4 L1655.8,897.1 L1656.9,898.8 L1657.9,900.5 L1658.9,902.3 L1659.9,904.0 L1660.9,905.7 L1662.0,907.4 L1663.0,909.1 L1664.0,910.8 L1665.1,912.6 L1666.1,914.3 L1667.2,916.0 L1668.2,917.7 L1669.3,919.4 L1670.3,921.1 L1671.4,922.8 L1672.5,924.4 L1673.6,926.1 L1674.6,927.8 L1675.7,929.5 L1676.8,931.2 L1677.9,932.9 L1679.0,934.5 L1680.1,936.2 L1681.2,937.9 L1682.3,939.5 L1683.5,941.2 L1684.6,942.8 L1685.7,944.5 L1686.8,946.1 L1688.0,947.8 L1689.1,949.4 L1690.3,951.1 L1691.4,952.7 L1692.6,954.3 L1693.8,956.0 L1694.9,957.6 L1696.1,959.2 L1697.3,960.8 L1698.5,962.4 L1699.7,964.0 L1700.9,965.6 L1702.1,967.2 L1703.3,968.8 L1704.5,970.4 L1705.7,972.0 L1706.9,973.6 L1708.2,975.2 L1709.4,976.8 L1710.6,978.3 L1711.9,979.9 L1713.1,981.5 L1714.4,983.0 L1715.7,984.6 L1716.9,986.1 L1718.2,987.7 L1719.5,989.2 L1720.7,990.8 L1722.0,992.3 L1723.3,993.8 L1724.6,995.4 L1725.9,996.9 L1727.2,998.4 L1728.5,999.9 L1729.8,1001.4 L1731.1,1003.0 L1732.4,1004.5 L1733.8,1006.0 L1735.1,1007.5 L1736.4,1009.0 L1737.7,1010.5 L1739.1,1011.9 L1740.4,1013.4 L1741.8,1014.9 L1743.1,1016.4 L1744.5,1017.9 L1745.8,1019.3 L1747.2,1020.8 L1748.5,1022.3 L1749.9,1023.7 L1751.3,1025.2 L1752.7,1026.7 L1754.0,1028.1 L1755.4,1029.6 L1756.8,1031.0 L1758.2,1032.4 L1759.6,1033.9 L1761.0,1035.3 L1762.4,1036.7 L1763.8,1038.2 L1765.2,1039.6 L1766.6,1041.0 L1768.0,1042.4 L1769.4,1043.9 L1770.8,1045.3 L1772.2,1046.7 L1773.7,1048.1 L1775.1,1049.5 L1776.5,1050.9 L1778.0,1052.3 L1779.4,1053.7 L1780.8,1055.1 L1782.3,1056.5 L1783.7,1057.9 L1785.1,1059.3 L1786.6,1060.6 L1788.0,1062.0 L1789.5,1063.4 L1791.0,1064.8 L1792.4,1066.2 L1793.9,1067.5 L1795.3,1068.9 L1796.8,1070.3 L1798.3,1071.6 L1799.7,1073.0 L1801.2,1074.3 L1802.7,1075.7 L1804.2,1077.0 L1805.6,1078.4 L1807.1,1079.7 L1808.6,1081.1 L1810.1,1082.4 L1811.6,1083.8 L1813.1,1085.1 L1814.5,1086.4 L1816.0,1087.8 L1817.5,1089.1 L1819.0,1090.4 L1820.5,1091.8 L1822.0,1093.1 L1823.5,1094.4 L1825.0,1095.7 L1826.5,1097.0 L1828.0,1098.4 L1829.6,1099.7 L1831.1,1101.0 L1832.6,1102.3 L1834.1,1103.6 L1835.6,1104.9 L1837.1,1106.2 L1838.6,1107.5 L1840.2,1108.8 L1841.7,1110.1 L1843.2,1111.4 L1844.7,1112.7 L1846.2,1114.0 L1847.8,1115.3 L1849.3,1116.6 L1850.8,1117.9 L1852.4,1119.2 L1853.9,1120.5 L1855.4,1121.8 L1857.0,1123.1 L1858.5,1124.3 L1860.0,1125.6 L1861.6,1126.9 L1863.1,1128.2 L1864.7,1129.5 L1866.2,1130.7 L1867.7,1132.0 L1869.3,1133.3 L1870.8,1134.6 L1872.4,1135.8 L1873.9,1137.1 L1875.5,1138.4 L1877.0,1139.7 L1878.6,1140.9 L1880.1,1142.2 L1881.7,1143.5 L1883.2,1144.7 L1884.8,1146.0 L1886.3,1147.3 L1887.9,1148.5 L1889.4,1149.8 L1891.0,1151.1 L1892.5,1152.3 L1894.1,1153.6 L1895.6,1154.8 L1897.2,1156.1 L1898.7,1157.4 L1900.3,1158.6 L1901.9,1159.9 L1903.4,1161.1 L1905.0,1162.4 L1906.5,1163.6 L1908.1,1164.9 L1909.6,1166.1 L1911.2,1167.4 L1912.8,1168.7 L1914.3,1169.9 L1915.9,1171.2 L1917.4,1172.4 L1919.0,1173.7 L1920.6,1174.9 L1922.1,1176.2 L1923.7,1177.4 L1925.2,1178.7 L1926.8,1179.9 L1928.4,1181.2 L1929.9,1182.4 L1931.5,1183.7 L1933.1,1184.9 L1934.6,1186.2 L1936.2,1187.4 L1937.8,1188.7 L1939.3,1189.9 L1940.9,1191.2 L1942.4,1192.4 L1944.0,1193.7 L1945.6,1194.9 L1947.1,1196.2 L1948.7,1197.4 L1950.3,1198.7 L1951.9,1199.9 L1953.4,1201.1 L1955.0,1202.4 L1956.6,1203.6 L1958.1,1204.9 L1959.7,1206.1 L1961.3,1207.3 L1962.9,1208.6 L1964.4,1209.8 L1966.0,1211.0 L1967.6,1212.3 L1969.2,1213.5 L1970.7,1214.8 L1972.3,1216.0 L1973.9,1217.2 L1975.5,1218.4 L1977.1,1219.7 L1978.6,1220.9 L1980.2,1222.1 L1981.8,1223.3 L1983.4,1224.6 L1985.0,1225.8 L1986.6,1227.0 L1988.1,1228.2 L1989.7,1229.5 L1991.3,1230.7 L1992.9,1231.9 L1994.5,1233.1 L1996.1,1234.3 L1997.7,1235.5 L1999.3,1236.7 L2000.9,1237.9 L2002.5,1239.2 L2004.1,1240.4 L2005.7,1241.6 L2007.3,1242.8 L2008.9,1244.0 L2010.5,1245.2 L2012.1,1246.4 L2013.7,1247.6 L2015.3,1248.8 L2016.9,1250.0 L2018.5,1251.1 L2020.1,1252.3 L2021.7,1253.5 L2023.3,1254.7 L2024.9,1255.9 L2026.6,1257.1 L2028.2,1258.3 L2029.8,1259.4 L2031.4,1260.6 L2033.0,1261.8 L2034.7,1263.0 L2036.3,1264.1 L2037.9,1265.3 L2039.5,1266.5 L2041.2,1267.6 L2042.8,1268.8 L2044.4,1270.0 L2046.0,1271.1 L2047.7,1272.3 L2049.3,1273.4 L2050.9,1274.6 L2052.6,1275.7 L2054.2,1276.9 L2055.9,1278.0 L2057.5,1279.2 L2059.1,1280.3 L2060.8,1281.5 L2062.4,1282.6 L2064.1,1283.7 L2065.7,1284.9 L2067.4,1286.0 L2069.0,1287.1 L2070.7,1288.3 L2072.3,1289.4 L2074.0,1290.5 L2075.7,1291.6 L2077.3,1292.7 L2079.0,1293.9 L2080.7,1295.0 L2082.3,1296.1 L2084.0,1297.2 L2085.7,1298.3 L2087.3,1299.4 L2089.0,1300.5" fill="none" stroke="#FF0000" stroke-width="9.0" stroke-linecap="round" stroke-linejoin="round"/>
<rect width="2191" height="1359" fill="#00B050" mask="url(#m_ga)"/>
</g>
<path d="M1306.0,393.0 L1449.0,350.5 L1489.0,350.5" fill="none" stroke="#A6A6A6" stroke-width="6.6" stroke-linejoin="miter" stroke-linecap="butt"/>
<path d="M1306.0,505.0 L1460.0,445.2 L1500.5,445.2" fill="none" stroke="#A6A6A6" stroke-width="6.6" stroke-linejoin="miter" stroke-linecap="butt"/>
<path d="M1306.0,745.5 L989.0,654.0 L949.0,654.0" fill="none" stroke="#A6A6A6" stroke-width="6.6" stroke-linejoin="miter" stroke-linecap="butt"/>
<path d="M1306.0,814.0 L992.7,740.0 L952.8,740.0" fill="none" stroke="#A6A6A6" stroke-width="6.6" stroke-linejoin="miter" stroke-linecap="butt"/>
<path d="M1699.0,961.0 L1771.8,875.0 L1808.8,875.0" fill="none" stroke="#A6A6A6" stroke-width="6.6" stroke-linejoin="miter" stroke-linecap="butt"/>
<path d="M1698.0,1074.5 L1745.4,970.0 L1782.5,970.0" fill="none" stroke="#A6A6A6" stroke-width="6.6" stroke-linejoin="miter" stroke-linecap="butt"/>
<path d="M1697.6,1112.5 L1637.2,1164.2 L1600.3,1164.2" fill="none" stroke="#A6A6A6" stroke-width="6.6" stroke-linejoin="miter" stroke-linecap="butt"/>
<path d="M1698.9,1175.0 L1680.4,1243.1 L1642.2,1243.1" fill="none" stroke="#A6A6A6" stroke-width="6.6" stroke-linejoin="miter" stroke-linecap="butt"/>
<path d="M364.8,983.4 L575.2,983.4" fill="none" stroke="#FF0000" stroke-width="9.0" stroke-linecap="round" stroke-dasharray="17.1 16.23"/>
<rect width="2191" height="1359" fill="#00B050" mask="url(#m_lgi)"/>
<path d="M364.8,1183.4 L575.2,1183.4" fill="none" stroke="#FF0000" stroke-width="9.0" stroke-linecap="round"/>
<rect width="2191" height="1359" fill="#00B050" mask="url(#m_lga)"/>
<text transform="translate(250.63,93.00) scale(0.9904,1)" font-family="'Liberation Serif', 'Times New Roman', serif" font-size="76" fill="#000">2005</text>
<text transform="translate(446.50,93.00) scale(0.9904,1)" font-family="'Liberation Serif', 'Times New Roman', serif" font-size="76" fill="#000">2010</text>
<text transform="translate(642.37,93.00) scale(0.9904,1)" font-family="'Liberation Serif', 'Times New Roman', serif" font-size="76" fill="#000">2015</text>
<text transform="translate(838.24,93.00) scale(0.9904,1)" font-family="'Liberation Serif', 'Times New Roman', serif" font-size="76" fill="#000">2020</text>
<text transform="translate(1034.11,93.00) scale(0.9904,1)" font-family="'Liberation Serif', 'Times New Roman', serif" font-size="76" fill="#000">2025</text>
<text transform="translate(1229.98,93.00) scale(0.9904,1)" font-family="'Liberation Serif', 'Times New Roman', serif" font-size="76" fill="#000">2030</text>
<text transform="translate(1425.85,93.00) scale(0.9904,1)" font-family="'Liberation Serif', 'Times New Roman', serif" font-size="76" fill="#000">2035</text>
<text transform="translate(1621.72,93.00) scale(0.9904,1)" font-family="'Liberation Serif', 'Times New Roman', serif" font-size="76" fill="#000">2040</text>
<text transform="translate(1817.59,93.00) scale(0.9904,1)" font-family="'Liberation Serif', 'Times New Roman', serif" font-size="76" fill="#000">2045</text>
<text transform="translate(2013.46,93.00) scale(0.9904,1)" font-family="'Liberation Serif', 'Times New Roman', serif" font-size="76" fill="#000">2050</text>
<text transform="translate(164.99,181.00) scale(0.9900,1)" font-family="'Liberation Serif', 'Times New Roman', serif" font-size="76" fill="#000">0%</text>
<text transform="translate(127.37,409.65) scale(0.9900,1)" font-family="'Liberation Serif', 'Times New Roman', serif" font-size="76" fill="#000">20%</text>
<text transform="translate(127.37,638.30) scale(0.9900,1)" font-family="'Liberation Serif', 'Times New Roman', serif" font-size="76" fill="#000">40%</text>
<text transform="translate(127.37,866.95) scale(0.9900,1)" font-family="'Liberation Serif', 'Times New Roman', serif" font-size="76" fill="#000">60%</text>
<text transform="translate(127.37,1095.60) scale(0.9900,1)" font-family="'Liberation Serif', 'Times New Roman', serif" font-size="76" fill="#000">80%</text>
<text transform="translate(89.75,1324.25) scale(0.9900,1)" font-family="'Liberation Serif', 'Times New Roman', serif" font-size="76" fill="#000">100%</text>
<text transform="translate(379.62,909.00) scale(0.9927,1)" font-family="'Liberation Serif', 'Times New Roman', serif" font-size="76" fill="#000">a. 90% scenario</text>
<text transform="translate(598.02,1007.00) scale(0.9838,1)" font-family="'Liberation Serif', 'Times New Roman', serif" font-size="76" fill="#000">min goal-intensity</text>
<text transform="translate(598.02,1107.00) scale(0.9802,1)" font-family="'Liberation Serif', 'Times New Roman', serif" font-size="76" fill="#000">max goal-intensity</text>
<text transform="translate(598.01,1206.50) scale(0.9877,1)" font-family="'Liberation Serif', 'Times New Roman', serif" font-size="76" fill="#000">min goal-amount</text>
<text transform="translate(598.01,1306.00) scale(0.9852,1)" font-family="'Liberation Serif', 'Times New Roman', serif" font-size="76" fill="#000">max goal-amount</text>
<text transform="translate(1511.51,376.00) scale(0.9966,1)" font-family="'Liberation Serif', 'Times New Roman', serif" font-size="76" fill="#000">2030, 20%</text>
<text transform="translate(1523.92,471.50) scale(0.9941,1)" font-family="'Liberation Serif', 'Times New Roman', serif" font-size="76" fill="#000">2030, 30%</text>
<text transform="translate(540.61,681.00) scale(0.9963,1)" font-family="'Liberation Serif', 'Times New Roman', serif" font-size="76" fill="#000">2030, 51.5%</text>
<text transform="translate(545.02,768.00) scale(0.9948,1)" font-family="'Liberation Serif', 'Times New Roman', serif" font-size="76" fill="#000">2030, 57.5%</text>
<text transform="translate(1832.72,902.00) scale(0.9929,1)" font-family="'Liberation Serif', 'Times New Roman', serif" font-size="76" fill="#000">2040, 70%</text>
<text transform="translate(1805.81,997.00) scale(0.9969,1)" font-family="'Liberation Serif', 'Times New Roman', serif" font-size="76" fill="#000">2040, 80%</text>
<text transform="translate(1191.81,1190.50) scale(0.9950,1)" font-family="'Liberation Serif', 'Times New Roman', serif" font-size="76" fill="#000">2040, 83.5%</text>
<text transform="translate(1194.31,1269.50) scale(0.9974,1)" font-family="'Liberation Serif', 'Times New Roman', serif" font-size="76" fill="#000">2040, 89.0%</text>
<text transform="translate(75,933.68) rotate(-90) scale(0.9916,1)" font-family="'Liberation Serif', 'Times New Roman', serif" font-size="76" fill="#000">Redution rate</text>
</svg></body></html>
